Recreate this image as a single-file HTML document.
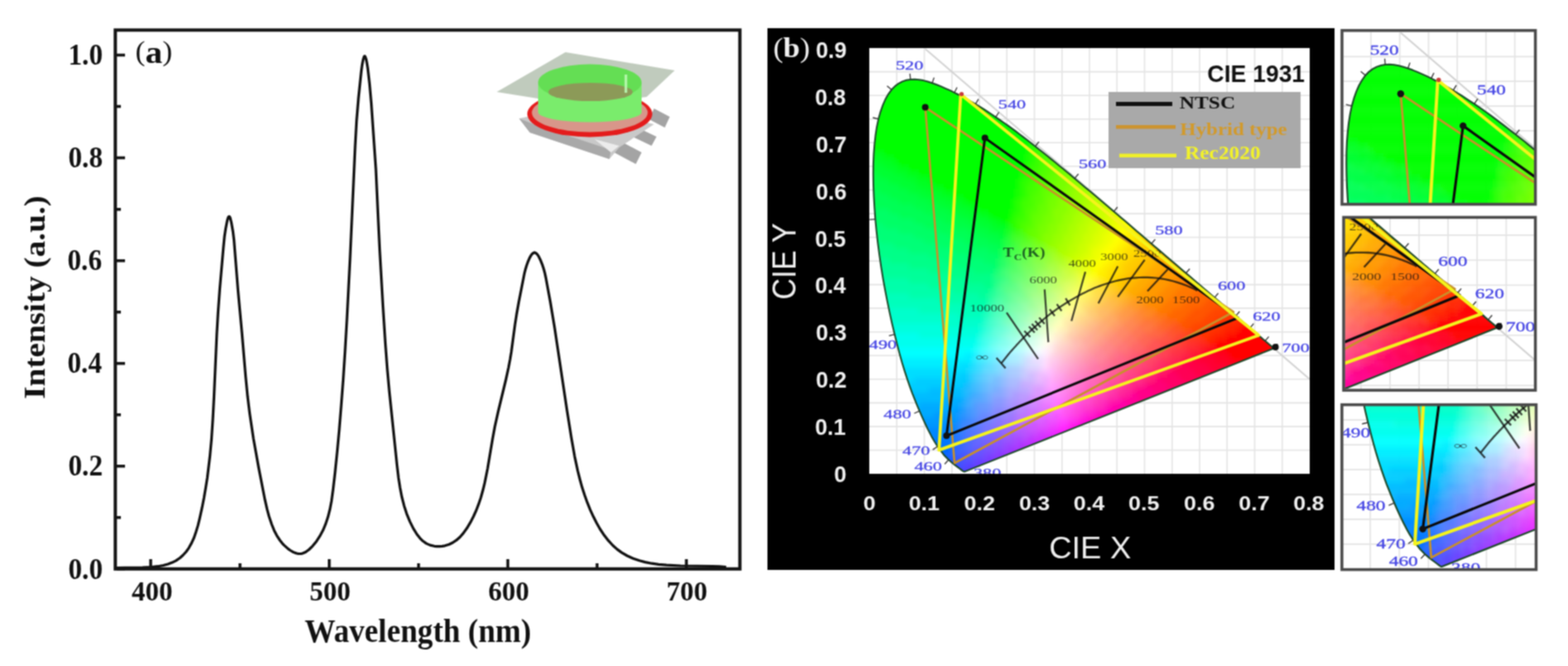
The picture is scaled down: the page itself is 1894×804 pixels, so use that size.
<!DOCTYPE html><html><head><meta charset="utf-8"><style>
html,body{margin:0;padding:0;background:#fff;width:1894px;height:804px;overflow:hidden}
.ta{font-family:"Liberation Serif",serif;font-weight:bold;font-size:32px;fill:#111}
.tt{font-family:"Liberation Serif",serif;font-weight:bold;font-size:36.5px;fill:#111}
.tl{font-family:"Liberation Serif",serif;font-size:32px;fill:#111}
.tc{font-family:"Liberation Serif",serif;font-size:12px;fill:#101010;fill-opacity:.72}
.tk{font-family:"Liberation Serif",serif;font-weight:bold;font-size:18px;fill:#0a3a1a;fill-opacity:.8}
.wl{font-family:"Liberation Serif",serif;font-size:18px;fill:#4646e4;stroke:#4646e4;stroke-width:0.35px}
.lg{font-family:"Liberation Serif",serif;font-weight:bold;font-size:24px}
.ct{font-family:"Liberation Sans",sans-serif;font-weight:bold;font-size:28px;fill:#111}
.ax{font-family:"Liberation Sans",sans-serif;font-weight:bold;font-size:26px;fill:#f0f0f0}
.at{font-family:"Liberation Sans",sans-serif;font-size:36px;fill:#f0f0f0}
.bl{font-family:"Liberation Serif",serif;font-size:32px;fill:#f0f0f0}
.cf rect{height:6px}
</style></head><body>
<svg class="root" width="1894" height="804" viewBox="0 0 1894 804">
<defs><filter id="bl" x="-5%" y="-5%" width="110%" height="110%"><feGaussianBlur stdDeviation="3"/></filter><filter id="soft" x="0" y="0" width="1894" height="804" filterUnits="userSpaceOnUse" color-interpolation-filters="sRGB"><feConvolveMatrix order="3" kernelMatrix="1 2 1 2 4 2 1 2 1" divisor="16" edgeMode="duplicate" preserveAlpha="true"/></filter>
<clipPath id="pc"><rect x="1050" y="58" width="532" height="514"/></clipPath><g id="cie" clip-path="url(#pc)"><rect x="1050" y="58" width="532" height="514" fill="#fff"/>
<path d="M1083.2,58V572 M1116.5,58V572 M1149.8,58V572 M1183,58V572 M1216.2,58V572 M1249.5,58V572 M1282.8,58V572 M1316,58V572 M1349.2,58V572 M1382.5,58V572 M1415.8,58V572 M1449,58V572 M1482.2,58V572 M1515.5,58V572 M1548.8,58V572 M1050,543.5H1582 M1050,514.9H1582 M1050,486.4H1582 M1050,457.8H1582 M1050,429.2H1582 M1050,400.7H1582 M1050,372.1H1582 M1050,343.6H1582 M1050,315.1H1582 M1050,286.5H1582 M1050,257.9H1582 M1050,229.4H1582 M1050,200.8H1582 M1050,172.3H1582 M1050,143.8H1582 M1050,115.2H1582 M1050,86.6H1582" stroke="#e4e4e4" stroke-width="1.6"/>
<path d="M1117.6,59.1L1582,457.8" stroke="#d2d2d2" stroke-width="2"/>
<clipPath id="lc"><path d="M1165.8,569.1 1165.7,569.1 1165.6,569.2 1165.4,569.2 1165.2,569.3 1165,569.3 1164.8,569.3 1164.4,569.3 1164,569.1 1163.2,568.7 1162.3,568.1 1161,567.1 1159.3,565.8 1157.1,564.1 1154.1,561.9 1150.4,559 1145.8,555 1140.1,549.2 1132.5,539 1130.8,536.3 1128.9,533.3 1127,530 1125,526.4 1122.9,522.4 1120.7,518.1 1118.4,513.3 1116,508.1 1113.4,502.4 1110.7,496.2 1107.9,489.6 1105,482.4 1101.9,474.6 1098.9,466.3 1095.8,457.4 1092.7,447.9 1089.6,437.7 1086.6,426.9 1083.6,415.5 1080.6,403.6 1077.6,391 1074.7,377.9 1071.9,364.4 1069.2,350.5 1066.6,336.3 1064.3,322 1062.2,307.6 1060.3,293.1 1058.7,278.8 1057.3,264.6 1056.3,250.6 1055.5,236.9 1055,223.6 1054.8,210.6 1054.9,198.1 1055.4,186 1056.3,174.5 1057.5,163.5 1059.1,153.2 1061.1,143.6 1063.6,134.8 1066.4,126.9 1069.5,119.8 1073.1,113.6 1076.9,108.3 1081,104.1 1085.4,100.8 1090,98.4 1094.8,96.8 1099.8,95.9 1104.9,95.7 1110,96.2 1115.3,97.1 1120.6,98.5 1126,100.2 1131.4,102.2 1136.8,104.4 1142.2,106.8 1147.6,109.2 1152.9,111.8 1158.1,114.5 1163.2,117.2 1168.3,120 1173.3,122.8 1178.3,125.7 1183.2,128.7 1188.1,131.7 1193,134.9 1197.8,138 1202.7,141.3 1207.5,144.6 1212.3,148 1217.2,151.4 1222,154.9 1226.8,158.4 1231.5,162 1236.3,165.6 1241.1,169.3 1245.8,173 1250.6,176.7 1255.3,180.5 1260.1,184.2 1264.8,188.1 1269.5,191.9 1274.3,195.8 1279.1,199.7 1283.8,203.6 1288.6,207.5 1293.4,211.4 1298.1,215.4 1302.9,219.4 1307.6,223.4 1312.3,227.4 1317.1,231.3 1321.8,235.3 1326.5,239.3 1331.2,243.3 1335.9,247.3 1340.6,251.3 1345.3,255.3 1350,259.2 1354.6,263.2 1359.2,267.1 1363.8,271.1 1368.4,275 1372.9,278.9 1377.5,282.7 1381.9,286.6 1386.4,290.4 1390.8,294.2 1395.2,297.9 1399.5,301.6 1403.8,305.3 1408.1,308.9 1412.3,312.5 1416.4,316.1 1420.6,319.6 1424.6,323 1428.6,326.4 1432.5,329.8 1436.4,333.1 1440.1,336.3 1443.8,339.5 1447.4,342.6 1450.9,345.6 1454.3,348.5 1457.6,351.3 1460.8,354 1463.9,356.7 1467,359.3 1469.9,361.8 1472.8,364.3 1475.7,366.8 1478.4,369.1 1481.1,371.4 1483.6,373.5 1486,375.6 1488.4,377.6 1490.6,379.5 1492.8,381.3 1494.8,383.1 1496.8,384.8 1498.7,386.4 1500.5,388 1502.3,389.5 1503.9,390.9 1505.5,392.2 1507,393.5 1508.5,394.8 1509.8,396 1511.2,397.1 1512.4,398.2 1513.6,399.2 1514.8,400.2 1515.9,401.1 1517,402 1518,402.9 1518.9,403.7 1519.9,404.5 1520.8,405.3 1521.6,406 1522.5,406.7 1523.3,407.4 1524.1,408.1 1524.8,408.8 1525.5,409.4 1526.2,410 1526.9,410.5 1527.5,411.1 1528.1,411.6 1532.8,415.5 1535.5,417.8 1536.8,419 1537.7,419.8 1538.4,420.3 1538.6,420.5Z"/></clipPath>
<g clip-path="url(#lc)"><g filter="url(#bl)" class="cf"><rect x="1098" y="84" width="12" fill="#0f0"/><rect x="1080" y="90" width="54" fill="#0f0"/><rect x="1074" y="96" width="72" fill="#0f0"/><rect x="1068" y="102" width="90" fill="#0f0"/><rect x="1062" y="108" width="108" fill="#0f0"/><rect x="1062" y="114" width="120" fill="#0f0"/><rect x="1056" y="120" width="138" fill="#0f0"/><rect x="1056" y="126" width="144" fill="#0f0"/><rect x="1056" y="132" width="156" fill="#0f0"/><rect x="1050" y="138" width="168" fill="#0f0"/><rect x="1050" y="144" width="174" fill="#0f0"/><rect x="1050" y="150" width="186" fill="#0f0"/><rect x="1050" y="156" width="192" fill="#0f0"/><rect x="1050" y="162" width="192" fill="#0f0"/><rect x="1242" y="162" width="6" fill="#1f0"/><rect x="1050" y="168" width="192" fill="#0f0"/><rect x="1242" y="168" width="6" fill="#1f0"/><rect x="1248" y="168" width="6" fill="#2f0"/><rect x="1254" y="168" width="6" fill="#3f0"/><rect x="1050" y="174" width="6" fill="#0f1"/><rect x="1056" y="174" width="186" fill="#0f0"/><rect x="1242" y="174" width="6" fill="#2f0"/><rect x="1248" y="174" width="12" fill="#3f0"/><rect x="1260" y="174" width="6" fill="#4f0"/><rect x="1044" y="180" width="12" fill="#0f2"/><rect x="1056" y="180" width="12" fill="#0f1"/><rect x="1068" y="180" width="174" fill="#0f0"/><rect x="1242" y="180" width="6" fill="#2f0"/><rect x="1248" y="180" width="6" fill="#3f0"/><rect x="1254" y="180" width="12" fill="#4f0"/><rect x="1266" y="180" width="6" fill="#5f0"/><rect x="1044" y="186" width="24" fill="#0f2"/><rect x="1068" y="186" width="12" fill="#0f1"/><rect x="1080" y="186" width="156" fill="#0f0"/><rect x="1236" y="186" width="6" fill="#1f0"/><rect x="1242" y="186" width="6" fill="#2f0"/><rect x="1248" y="186" width="6" fill="#3f0"/><rect x="1254" y="186" width="12" fill="#4f0"/><rect x="1266" y="186" width="12" fill="#5f0"/><rect x="1044" y="192" width="12" fill="#0f3"/><rect x="1056" y="192" width="24" fill="#0f2"/><rect x="1080" y="192" width="6" fill="#0f1"/><rect x="1086" y="192" width="150" fill="#0f0"/><rect x="1236" y="192" width="6" fill="#1f0"/><rect x="1242" y="192" width="6" fill="#2f0"/><rect x="1248" y="192" width="6" fill="#3f0"/><rect x="1254" y="192" width="6" fill="#4f0"/><rect x="1260" y="192" width="12" fill="#5f0"/><rect x="1272" y="192" width="12" fill="#6f0"/><rect x="1284" y="192" width="6" fill="#7f0"/><rect x="1044" y="198" width="24" fill="#0f3"/><rect x="1068" y="198" width="18" fill="#0f2"/><rect x="1086" y="198" width="12" fill="#0f1"/><rect x="1098" y="198" width="138" fill="#0f0"/><rect x="1236" y="198" width="6" fill="#2f0"/><rect x="1242" y="198" width="12" fill="#3f0"/><rect x="1254" y="198" width="6" fill="#4f0"/><rect x="1260" y="198" width="12" fill="#5f0"/><rect x="1272" y="198" width="12" fill="#6f0"/><rect x="1284" y="198" width="12" fill="#7f0"/><rect x="1044" y="204" width="36" fill="#0f3"/><rect x="1080" y="204" width="18" fill="#0f2"/><rect x="1098" y="204" width="12" fill="#0f1"/><rect x="1110" y="204" width="120" fill="#0f0"/><rect x="1230" y="204" width="6" fill="#1f0"/><rect x="1236" y="204" width="6" fill="#2f0"/><rect x="1242" y="204" width="6" fill="#3f0"/><rect x="1248" y="204" width="12" fill="#4f0"/><rect x="1260" y="204" width="12" fill="#5f0"/><rect x="1272" y="204" width="12" fill="#6f0"/><rect x="1284" y="204" width="12" fill="#7f0"/><rect x="1296" y="204" width="6" fill="#8f0"/><rect x="1044" y="210" width="18" fill="#0f4"/><rect x="1062" y="210" width="30" fill="#0f3"/><rect x="1092" y="210" width="18" fill="#0f2"/><rect x="1110" y="210" width="12" fill="#0f1"/><rect x="1122" y="210" width="108" fill="#0f0"/><rect x="1230" y="210" width="6" fill="#1f0"/><rect x="1236" y="210" width="6" fill="#2f0"/><rect x="1242" y="210" width="6" fill="#3f0"/><rect x="1248" y="210" width="6" fill="#4f0"/><rect x="1254" y="210" width="12" fill="#5f0"/><rect x="1266" y="210" width="12" fill="#6f0"/><rect x="1278" y="210" width="12" fill="#7f0"/><rect x="1290" y="210" width="18" fill="#8f0"/><rect x="1044" y="216" width="30" fill="#0f4"/><rect x="1074" y="216" width="30" fill="#0f3"/><rect x="1104" y="216" width="18" fill="#0f2"/><rect x="1122" y="216" width="6" fill="#0f1"/><rect x="1128" y="216" width="102" fill="#0f0"/><rect x="1230" y="216" width="6" fill="#2f0"/><rect x="1236" y="216" width="12" fill="#3f0"/><rect x="1248" y="216" width="6" fill="#4f0"/><rect x="1254" y="216" width="12" fill="#5f0"/><rect x="1266" y="216" width="12" fill="#6f0"/><rect x="1278" y="216" width="12" fill="#7f0"/><rect x="1290" y="216" width="12" fill="#8f0"/><rect x="1302" y="216" width="12" fill="#9f0"/><rect x="1044" y="222" width="42" fill="#0f4"/><rect x="1086" y="222" width="24" fill="#0f3"/><rect x="1110" y="222" width="18" fill="#0f2"/><rect x="1128" y="222" width="12" fill="#0f1"/><rect x="1140" y="222" width="90" fill="#0f0"/><rect x="1230" y="222" width="6" fill="#2f0"/><rect x="1236" y="222" width="6" fill="#3f0"/><rect x="1242" y="222" width="12" fill="#4f0"/><rect x="1254" y="222" width="12" fill="#5f0"/><rect x="1266" y="222" width="6" fill="#6f0"/><rect x="1272" y="222" width="18" fill="#7f0"/><rect x="1290" y="222" width="12" fill="#8f0"/><rect x="1302" y="222" width="12" fill="#9f0"/><rect x="1314" y="222" width="12" fill="#af0"/><rect x="1044" y="228" width="18" fill="#0f5"/><rect x="1062" y="228" width="36" fill="#0f4"/><rect x="1098" y="228" width="24" fill="#0f3"/><rect x="1122" y="228" width="18" fill="#0f2"/><rect x="1140" y="228" width="12" fill="#0f1"/><rect x="1152" y="228" width="72" fill="#0f0"/><rect x="1224" y="228" width="6" fill="#1f0"/><rect x="1230" y="228" width="6" fill="#2f0"/><rect x="1236" y="228" width="6" fill="#3f0"/><rect x="1242" y="228" width="12" fill="#4f0"/><rect x="1254" y="228" width="6" fill="#5f0"/><rect x="1260" y="228" width="12" fill="#6f0"/><rect x="1272" y="228" width="12" fill="#7f0"/><rect x="1284" y="228" width="12" fill="#8f0"/><rect x="1296" y="228" width="18" fill="#9f0"/><rect x="1314" y="228" width="12" fill="#af0"/><rect x="1326" y="228" width="6" fill="#bf0"/><rect x="1044" y="234" width="30" fill="#0f5"/><rect x="1074" y="234" width="36" fill="#0f4"/><rect x="1110" y="234" width="24" fill="#0f3"/><rect x="1134" y="234" width="18" fill="#0f2"/><rect x="1152" y="234" width="12" fill="#0f1"/><rect x="1164" y="234" width="60" fill="#0f0"/><rect x="1224" y="234" width="6" fill="#1f0"/><rect x="1230" y="234" width="6" fill="#2f0"/><rect x="1236" y="234" width="6" fill="#3f0"/><rect x="1242" y="234" width="6" fill="#4f0"/><rect x="1248" y="234" width="12" fill="#5f0"/><rect x="1260" y="234" width="12" fill="#6f0"/><rect x="1272" y="234" width="12" fill="#7f0"/><rect x="1284" y="234" width="12" fill="#8f0"/><rect x="1296" y="234" width="12" fill="#9f0"/><rect x="1308" y="234" width="12" fill="#af0"/><rect x="1320" y="234" width="18" fill="#bf0"/><rect x="1044" y="240" width="42" fill="#0f5"/><rect x="1086" y="240" width="36" fill="#0f4"/><rect x="1122" y="240" width="24" fill="#0f3"/><rect x="1146" y="240" width="18" fill="#0f2"/><rect x="1164" y="240" width="6" fill="#0f1"/><rect x="1170" y="240" width="54" fill="#0f0"/><rect x="1224" y="240" width="6" fill="#2f0"/><rect x="1230" y="240" width="6" fill="#3f0"/><rect x="1236" y="240" width="12" fill="#4f0"/><rect x="1248" y="240" width="12" fill="#5f0"/><rect x="1260" y="240" width="6" fill="#6f0"/><rect x="1266" y="240" width="12" fill="#7f0"/><rect x="1278" y="240" width="12" fill="#8f0"/><rect x="1290" y="240" width="18" fill="#9f0"/><rect x="1308" y="240" width="12" fill="#af0"/><rect x="1320" y="240" width="12" fill="#bf0"/><rect x="1332" y="240" width="12" fill="#cf0"/><rect x="1050" y="246" width="6" fill="#0f6"/><rect x="1056" y="246" width="48" fill="#0f5"/><rect x="1104" y="246" width="30" fill="#0f4"/><rect x="1134" y="246" width="24" fill="#0f3"/><rect x="1158" y="246" width="18" fill="#0f2"/><rect x="1176" y="246" width="6" fill="#0f1"/><rect x="1182" y="246" width="42" fill="#0f0"/><rect x="1224" y="246" width="6" fill="#2f0"/><rect x="1230" y="246" width="6" fill="#3f0"/><rect x="1236" y="246" width="12" fill="#4f0"/><rect x="1248" y="246" width="6" fill="#5f0"/><rect x="1254" y="246" width="12" fill="#6f0"/><rect x="1266" y="246" width="12" fill="#7f0"/><rect x="1278" y="246" width="12" fill="#8f0"/><rect x="1290" y="246" width="12" fill="#9f0"/><rect x="1302" y="246" width="12" fill="#af0"/><rect x="1314" y="246" width="18" fill="#bf0"/><rect x="1332" y="246" width="12" fill="#cf0"/><rect x="1344" y="246" width="6" fill="#df0"/><rect x="1050" y="252" width="24" fill="#0f6"/><rect x="1074" y="252" width="42" fill="#0f5"/><rect x="1116" y="252" width="30" fill="#0f4"/><rect x="1146" y="252" width="24" fill="#0f3"/><rect x="1170" y="252" width="12" fill="#0f2"/><rect x="1182" y="252" width="12" fill="#0f1"/><rect x="1194" y="252" width="24" fill="#0f0"/><rect x="1218" y="252" width="6" fill="#1f0"/><rect x="1224" y="252" width="6" fill="#2f0"/><rect x="1230" y="252" width="6" fill="#3f0"/><rect x="1236" y="252" width="6" fill="#4f0"/><rect x="1242" y="252" width="12" fill="#5f0"/><rect x="1254" y="252" width="12" fill="#6f0"/><rect x="1266" y="252" width="6" fill="#7f0"/><rect x="1272" y="252" width="18" fill="#8f0"/><rect x="1290" y="252" width="12" fill="#9f0"/><rect x="1302" y="252" width="12" fill="#af0"/><rect x="1314" y="252" width="12" fill="#bf0"/><rect x="1326" y="252" width="12" fill="#cf0"/><rect x="1338" y="252" width="12" fill="#df0"/><rect x="1350" y="252" width="6" fill="#ef0"/><rect x="1050" y="258" width="36" fill="#0f6"/><rect x="1086" y="258" width="42" fill="#0f5"/><rect x="1128" y="258" width="30" fill="#0f4"/><rect x="1158" y="258" width="24" fill="#0f3"/><rect x="1182" y="258" width="12" fill="#0f2"/><rect x="1194" y="258" width="6" fill="#0f1"/><rect x="1200" y="258" width="18" fill="#0f0"/><rect x="1218" y="258" width="6" fill="#1f0"/><rect x="1224" y="258" width="12" fill="#3f0"/><rect x="1236" y="258" width="6" fill="#4f0"/><rect x="1242" y="258" width="6" fill="#5f0"/><rect x="1248" y="258" width="12" fill="#6f0"/><rect x="1260" y="258" width="12" fill="#7f0"/><rect x="1272" y="258" width="12" fill="#8f0"/><rect x="1284" y="258" width="12" fill="#9f0"/><rect x="1296" y="258" width="12" fill="#af0"/><rect x="1308" y="258" width="12" fill="#bf0"/><rect x="1320" y="258" width="18" fill="#cf0"/><rect x="1338" y="258" width="12" fill="#df0"/><rect x="1350" y="258" width="12" fill="#ef0"/><rect x="1362" y="258" width="6" fill="#ff0"/><rect x="1050" y="264" width="54" fill="#0f6"/><rect x="1104" y="264" width="36" fill="#0f5"/><rect x="1140" y="264" width="30" fill="#0f4"/><rect x="1170" y="264" width="24" fill="#0f3"/><rect x="1194" y="264" width="12" fill="#0f2"/><rect x="1206" y="264" width="6" fill="#0f1"/><rect x="1212" y="264" width="6" fill="#0f0"/><rect x="1218" y="264" width="6" fill="#2f0"/><rect x="1224" y="264" width="6" fill="#3f0"/><rect x="1230" y="264" width="12" fill="#4f0"/><rect x="1242" y="264" width="6" fill="#5f0"/><rect x="1248" y="264" width="12" fill="#6f0"/><rect x="1260" y="264" width="12" fill="#7f0"/><rect x="1272" y="264" width="12" fill="#8f0"/><rect x="1284" y="264" width="12" fill="#9f0"/><rect x="1296" y="264" width="12" fill="#af0"/><rect x="1308" y="264" width="12" fill="#bf0"/><rect x="1320" y="264" width="12" fill="#cf0"/><rect x="1332" y="264" width="12" fill="#df0"/><rect x="1344" y="264" width="12" fill="#ef0"/><rect x="1356" y="264" width="12" fill="#ff0"/><rect x="1368" y="264" width="6" fill="#fe0"/><rect x="1050" y="270" width="18" fill="#0f7"/><rect x="1068" y="270" width="48" fill="#0f6"/><rect x="1116" y="270" width="36" fill="#0f5"/><rect x="1152" y="270" width="30" fill="#0f4"/><rect x="1182" y="270" width="18" fill="#0f3"/><rect x="1200" y="270" width="18" fill="#0f2"/><rect x="1218" y="270" width="6" fill="#2f1"/><rect x="1224" y="270" width="6" fill="#3f0"/><rect x="1230" y="270" width="6" fill="#4f0"/><rect x="1236" y="270" width="12" fill="#5f0"/><rect x="1248" y="270" width="6" fill="#6f0"/><rect x="1254" y="270" width="12" fill="#7f0"/><rect x="1266" y="270" width="12" fill="#8f0"/><rect x="1278" y="270" width="12" fill="#9f0"/><rect x="1290" y="270" width="12" fill="#af0"/><rect x="1302" y="270" width="12" fill="#bf0"/><rect x="1314" y="270" width="12" fill="#cf0"/><rect x="1326" y="270" width="18" fill="#df0"/><rect x="1344" y="270" width="12" fill="#ef0"/><rect x="1356" y="270" width="12" fill="#ff0"/><rect x="1368" y="270" width="12" fill="#fe0"/><rect x="1050" y="276" width="36" fill="#0f7"/><rect x="1086" y="276" width="48" fill="#0f6"/><rect x="1134" y="276" width="36" fill="#0f5"/><rect x="1170" y="276" width="24" fill="#0f4"/><rect x="1194" y="276" width="18" fill="#0f3"/><rect x="1212" y="276" width="6" fill="#1f2"/><rect x="1218" y="276" width="6" fill="#2f2"/><rect x="1224" y="276" width="6" fill="#3f1"/><rect x="1230" y="276" width="6" fill="#4f1"/><rect x="1236" y="276" width="6" fill="#5f0"/><rect x="1242" y="276" width="12" fill="#6f0"/><rect x="1254" y="276" width="12" fill="#7f0"/><rect x="1266" y="276" width="12" fill="#8f0"/><rect x="1278" y="276" width="12" fill="#9f0"/><rect x="1290" y="276" width="12" fill="#af0"/><rect x="1302" y="276" width="12" fill="#bf0"/><rect x="1314" y="276" width="12" fill="#cf0"/><rect x="1326" y="276" width="12" fill="#df0"/><rect x="1338" y="276" width="12" fill="#ef0"/><rect x="1350" y="276" width="12" fill="#ff0"/><rect x="1362" y="276" width="12" fill="#fe0"/><rect x="1374" y="276" width="12" fill="#fd0"/><rect x="1050" y="282" width="54" fill="#0f7"/><rect x="1104" y="282" width="42" fill="#0f6"/><rect x="1146" y="282" width="36" fill="#0f5"/><rect x="1182" y="282" width="24" fill="#0f4"/><rect x="1206" y="282" width="6" fill="#0f3"/><rect x="1212" y="282" width="6" fill="#1f3"/><rect x="1218" y="282" width="6" fill="#3f3"/><rect x="1224" y="282" width="12" fill="#4f2"/><rect x="1236" y="282" width="6" fill="#5f1"/><rect x="1242" y="282" width="12" fill="#6f0"/><rect x="1254" y="282" width="6" fill="#7f0"/><rect x="1260" y="282" width="12" fill="#8f0"/><rect x="1272" y="282" width="12" fill="#9f0"/><rect x="1284" y="282" width="12" fill="#af0"/><rect x="1296" y="282" width="12" fill="#bf0"/><rect x="1308" y="282" width="12" fill="#cf0"/><rect x="1320" y="282" width="12" fill="#df0"/><rect x="1332" y="282" width="12" fill="#ef0"/><rect x="1344" y="282" width="12" fill="#ff0"/><rect x="1356" y="282" width="18" fill="#fe0"/><rect x="1374" y="282" width="12" fill="#fd0"/><rect x="1386" y="282" width="6" fill="#fc0"/><rect x="1050" y="288" width="12" fill="#0f8"/><rect x="1062" y="288" width="54" fill="#0f7"/><rect x="1116" y="288" width="48" fill="#0f6"/><rect x="1164" y="288" width="30" fill="#0f5"/><rect x="1194" y="288" width="18" fill="#0f4"/><rect x="1212" y="288" width="6" fill="#2f4"/><rect x="1218" y="288" width="6" fill="#3f3"/><rect x="1224" y="288" width="6" fill="#4f3"/><rect x="1230" y="288" width="6" fill="#5f3"/><rect x="1236" y="288" width="6" fill="#5f2"/><rect x="1242" y="288" width="6" fill="#6f2"/><rect x="1248" y="288" width="6" fill="#7f1"/><rect x="1254" y="288" width="6" fill="#7f0"/><rect x="1260" y="288" width="12" fill="#8f0"/><rect x="1272" y="288" width="12" fill="#9f0"/><rect x="1284" y="288" width="12" fill="#af0"/><rect x="1296" y="288" width="12" fill="#bf0"/><rect x="1308" y="288" width="12" fill="#cf0"/><rect x="1320" y="288" width="12" fill="#df0"/><rect x="1332" y="288" width="12" fill="#ef0"/><rect x="1344" y="288" width="12" fill="#ff0"/><rect x="1356" y="288" width="12" fill="#fe0"/><rect x="1368" y="288" width="12" fill="#fd0"/><rect x="1380" y="288" width="18" fill="#fc0"/><rect x="1050" y="294" width="30" fill="#0f8"/><rect x="1080" y="294" width="54" fill="#0f7"/><rect x="1134" y="294" width="42" fill="#0f6"/><rect x="1176" y="294" width="30" fill="#0f5"/><rect x="1206" y="294" width="6" fill="#0f4"/><rect x="1212" y="294" width="6" fill="#2f4"/><rect x="1218" y="294" width="6" fill="#3f4"/><rect x="1224" y="294" width="6" fill="#4f4"/><rect x="1230" y="294" width="6" fill="#5f3"/><rect x="1236" y="294" width="12" fill="#6f3"/><rect x="1248" y="294" width="12" fill="#7f2"/><rect x="1260" y="294" width="6" fill="#8f1"/><rect x="1266" y="294" width="12" fill="#9f0"/><rect x="1278" y="294" width="12" fill="#af0"/><rect x="1290" y="294" width="12" fill="#bf0"/><rect x="1302" y="294" width="12" fill="#cf0"/><rect x="1314" y="294" width="12" fill="#df0"/><rect x="1326" y="294" width="12" fill="#ef0"/><rect x="1338" y="294" width="12" fill="#ff0"/><rect x="1350" y="294" width="12" fill="#fe0"/><rect x="1362" y="294" width="18" fill="#fd0"/><rect x="1380" y="294" width="12" fill="#fc0"/><rect x="1392" y="294" width="18" fill="#fb0"/><rect x="1050" y="300" width="48" fill="#0f8"/><rect x="1098" y="300" width="54" fill="#0f7"/><rect x="1152" y="300" width="42" fill="#0f6"/><rect x="1194" y="300" width="12" fill="#0f5"/><rect x="1206" y="300" width="6" fill="#1f5"/><rect x="1212" y="300" width="6" fill="#3f5"/><rect x="1218" y="300" width="12" fill="#4f4"/><rect x="1230" y="300" width="6" fill="#5f4"/><rect x="1236" y="300" width="6" fill="#6f4"/><rect x="1242" y="300" width="6" fill="#6f3"/><rect x="1248" y="300" width="6" fill="#7f3"/><rect x="1254" y="300" width="6" fill="#8f3"/><rect x="1260" y="300" width="6" fill="#8f2"/><rect x="1266" y="300" width="6" fill="#9f2"/><rect x="1272" y="300" width="6" fill="#9f1"/><rect x="1278" y="300" width="12" fill="#af0"/><rect x="1290" y="300" width="12" fill="#bf0"/><rect x="1302" y="300" width="12" fill="#cf0"/><rect x="1314" y="300" width="6" fill="#df0"/><rect x="1320" y="300" width="12" fill="#ef0"/><rect x="1332" y="300" width="12" fill="#ff0"/><rect x="1344" y="300" width="12" fill="#fe0"/><rect x="1356" y="300" width="18" fill="#fd0"/><rect x="1374" y="300" width="18" fill="#fc0"/><rect x="1392" y="300" width="18" fill="#fb0"/><rect x="1410" y="300" width="6" fill="#fa0"/><rect x="1056" y="306" width="66" fill="#0f8"/><rect x="1122" y="306" width="48" fill="#0f7"/><rect x="1170" y="306" width="36" fill="#0f6"/><rect x="1206" y="306" width="6" fill="#1f5"/><rect x="1212" y="306" width="6" fill="#3f5"/><rect x="1218" y="306" width="6" fill="#4f5"/><rect x="1224" y="306" width="12" fill="#5f5"/><rect x="1236" y="306" width="6" fill="#6f4"/><rect x="1242" y="306" width="12" fill="#7f4"/><rect x="1254" y="306" width="12" fill="#8f3"/><rect x="1266" y="306" width="6" fill="#9f3"/><rect x="1272" y="306" width="6" fill="#af2"/><rect x="1278" y="306" width="6" fill="#af1"/><rect x="1284" y="306" width="12" fill="#bf0"/><rect x="1296" y="306" width="12" fill="#cf0"/><rect x="1308" y="306" width="12" fill="#df0"/><rect x="1320" y="306" width="12" fill="#ef0"/><rect x="1332" y="306" width="12" fill="#ff0"/><rect x="1344" y="306" width="12" fill="#fe0"/><rect x="1356" y="306" width="12" fill="#fd0"/><rect x="1368" y="306" width="18" fill="#fc0"/><rect x="1386" y="306" width="18" fill="#fb0"/><rect x="1404" y="306" width="18" fill="#fa0"/><rect x="1056" y="312" width="18" fill="#0f9"/><rect x="1074" y="312" width="66" fill="#0f8"/><rect x="1140" y="312" width="48" fill="#0f7"/><rect x="1188" y="312" width="18" fill="#0f6"/><rect x="1206" y="312" width="6" fill="#2f6"/><rect x="1212" y="312" width="6" fill="#3f6"/><rect x="1218" y="312" width="6" fill="#4f5"/><rect x="1224" y="312" width="6" fill="#5f5"/><rect x="1230" y="312" width="12" fill="#6f5"/><rect x="1242" y="312" width="6" fill="#7f5"/><rect x="1248" y="312" width="12" fill="#8f4"/><rect x="1260" y="312" width="6" fill="#9f4"/><rect x="1266" y="312" width="6" fill="#9f3"/><rect x="1272" y="312" width="6" fill="#af3"/><rect x="1278" y="312" width="6" fill="#af2"/><rect x="1284" y="312" width="6" fill="#bf2"/><rect x="1290" y="312" width="6" fill="#cf1"/><rect x="1296" y="312" width="6" fill="#cf0"/><rect x="1302" y="312" width="12" fill="#df0"/><rect x="1314" y="312" width="12" fill="#ef0"/><rect x="1326" y="312" width="12" fill="#ff0"/><rect x="1338" y="312" width="12" fill="#fe0"/><rect x="1350" y="312" width="12" fill="#fd0"/><rect x="1362" y="312" width="18" fill="#fc0"/><rect x="1380" y="312" width="18" fill="#fb0"/><rect x="1398" y="312" width="18" fill="#fa0"/><rect x="1416" y="312" width="12" fill="#f90"/><rect x="1056" y="318" width="42" fill="#0f9"/><rect x="1098" y="318" width="60" fill="#0f8"/><rect x="1158" y="318" width="42" fill="#0f7"/><rect x="1200" y="318" width="6" fill="#0f6"/><rect x="1206" y="318" width="6" fill="#2f6"/><rect x="1212" y="318" width="6" fill="#3f6"/><rect x="1218" y="318" width="6" fill="#4f6"/><rect x="1224" y="318" width="6" fill="#5f6"/><rect x="1230" y="318" width="6" fill="#6f6"/><rect x="1236" y="318" width="12" fill="#7f5"/><rect x="1248" y="318" width="12" fill="#8f5"/><rect x="1260" y="318" width="6" fill="#9f4"/><rect x="1266" y="318" width="12" fill="#af4"/><rect x="1278" y="318" width="12" fill="#bf3"/><rect x="1290" y="318" width="12" fill="#cf2"/><rect x="1302" y="318" width="6" fill="#df1"/><rect x="1308" y="318" width="6" fill="#df0"/><rect x="1314" y="318" width="6" fill="#ef0"/><rect x="1320" y="318" width="12" fill="#ff0"/><rect x="1332" y="318" width="12" fill="#fe0"/><rect x="1344" y="318" width="12" fill="#fd0"/><rect x="1356" y="318" width="18" fill="#fc0"/><rect x="1374" y="318" width="18" fill="#fb0"/><rect x="1392" y="318" width="18" fill="#fa0"/><rect x="1410" y="318" width="24" fill="#f90"/><rect x="1056" y="324" width="66" fill="#0f9"/><rect x="1122" y="324" width="54" fill="#0f8"/><rect x="1176" y="324" width="24" fill="#0f7"/><rect x="1200" y="324" width="6" fill="#1f7"/><rect x="1206" y="324" width="6" fill="#3f7"/><rect x="1212" y="324" width="6" fill="#4f7"/><rect x="1218" y="324" width="12" fill="#5f6"/><rect x="1230" y="324" width="6" fill="#6f6"/><rect x="1236" y="324" width="12" fill="#7f6"/><rect x="1248" y="324" width="6" fill="#8f5"/><rect x="1254" y="324" width="12" fill="#9f5"/><rect x="1266" y="324" width="6" fill="#af5"/><rect x="1272" y="324" width="6" fill="#af4"/><rect x="1278" y="324" width="6" fill="#bf4"/><rect x="1284" y="324" width="6" fill="#cf4"/><rect x="1290" y="324" width="6" fill="#cf3"/><rect x="1296" y="324" width="6" fill="#df3"/><rect x="1302" y="324" width="6" fill="#df2"/><rect x="1308" y="324" width="6" fill="#ef2"/><rect x="1314" y="324" width="6" fill="#ef0"/><rect x="1320" y="324" width="6" fill="#ff0"/><rect x="1326" y="324" width="12" fill="#fe0"/><rect x="1338" y="324" width="18" fill="#fd0"/><rect x="1356" y="324" width="12" fill="#fc0"/><rect x="1368" y="324" width="18" fill="#fb0"/><rect x="1386" y="324" width="18" fill="#fa0"/><rect x="1404" y="324" width="24" fill="#f90"/><rect x="1428" y="324" width="18" fill="#f80"/><rect x="1056" y="330" width="12" fill="#0fa"/><rect x="1068" y="330" width="78" fill="#0f9"/><rect x="1146" y="330" width="54" fill="#0f8"/><rect x="1200" y="330" width="6" fill="#2f7"/><rect x="1206" y="330" width="6" fill="#3f7"/><rect x="1212" y="330" width="6" fill="#4f7"/><rect x="1218" y="330" width="6" fill="#5f7"/><rect x="1224" y="330" width="12" fill="#6f7"/><rect x="1236" y="330" width="6" fill="#7f6"/><rect x="1242" y="330" width="12" fill="#8f6"/><rect x="1254" y="330" width="6" fill="#9f6"/><rect x="1260" y="330" width="6" fill="#af6"/><rect x="1266" y="330" width="6" fill="#af5"/><rect x="1272" y="330" width="12" fill="#bf5"/><rect x="1284" y="330" width="12" fill="#cf4"/><rect x="1296" y="330" width="6" fill="#df4"/><rect x="1302" y="330" width="12" fill="#ef3"/><rect x="1314" y="330" width="6" fill="#ff2"/><rect x="1320" y="330" width="6" fill="#ff1"/><rect x="1326" y="330" width="12" fill="#fe0"/><rect x="1338" y="330" width="12" fill="#fd0"/><rect x="1350" y="330" width="12" fill="#fc0"/><rect x="1362" y="330" width="18" fill="#fb0"/><rect x="1380" y="330" width="18" fill="#fa0"/><rect x="1398" y="330" width="24" fill="#f90"/><rect x="1422" y="330" width="24" fill="#f80"/><rect x="1446" y="330" width="6" fill="#f70"/><rect x="1056" y="336" width="42" fill="#0fa"/><rect x="1098" y="336" width="72" fill="#0f9"/><rect x="1170" y="336" width="30" fill="#0f8"/><rect x="1200" y="336" width="6" fill="#2f8"/><rect x="1206" y="336" width="6" fill="#3f8"/><rect x="1212" y="336" width="6" fill="#4f8"/><rect x="1218" y="336" width="6" fill="#5f7"/><rect x="1224" y="336" width="6" fill="#6f7"/><rect x="1230" y="336" width="12" fill="#7f7"/><rect x="1242" y="336" width="6" fill="#8f7"/><rect x="1248" y="336" width="6" fill="#9f7"/><rect x="1254" y="336" width="6" fill="#9f6"/><rect x="1260" y="336" width="12" fill="#af6"/><rect x="1272" y="336" width="6" fill="#bf6"/><rect x="1278" y="336" width="12" fill="#cf5"/><rect x="1290" y="336" width="12" fill="#df5"/><rect x="1302" y="336" width="6" fill="#ef4"/><rect x="1308" y="336" width="6" fill="#ff4"/><rect x="1314" y="336" width="6" fill="#ff3"/><rect x="1320" y="336" width="6" fill="#fe3"/><rect x="1326" y="336" width="6" fill="#fe2"/><rect x="1332" y="336" width="6" fill="#fd1"/><rect x="1338" y="336" width="6" fill="#fd0"/><rect x="1344" y="336" width="12" fill="#fc0"/><rect x="1356" y="336" width="18" fill="#fb0"/><rect x="1374" y="336" width="18" fill="#fa0"/><rect x="1392" y="336" width="24" fill="#f90"/><rect x="1416" y="336" width="18" fill="#f80"/><rect x="1434" y="336" width="24" fill="#f70"/><rect x="1062" y="342" width="60" fill="#0fa"/><rect x="1122" y="342" width="66" fill="#0f9"/><rect x="1188" y="342" width="12" fill="#0f8"/><rect x="1200" y="342" width="6" fill="#2f8"/><rect x="1206" y="342" width="6" fill="#4f8"/><rect x="1212" y="342" width="12" fill="#5f8"/><rect x="1224" y="342" width="6" fill="#6f8"/><rect x="1230" y="342" width="6" fill="#7f8"/><rect x="1236" y="342" width="12" fill="#8f7"/><rect x="1248" y="342" width="6" fill="#9f7"/><rect x="1254" y="342" width="12" fill="#af7"/><rect x="1266" y="342" width="6" fill="#bf7"/><rect x="1272" y="342" width="6" fill="#bf6"/><rect x="1278" y="342" width="6" fill="#cf6"/><rect x="1284" y="342" width="12" fill="#df6"/><rect x="1296" y="342" width="12" fill="#ef5"/><rect x="1308" y="342" width="6" fill="#ff5"/><rect x="1314" y="342" width="12" fill="#fe4"/><rect x="1326" y="342" width="6" fill="#fd3"/><rect x="1332" y="342" width="6" fill="#fd2"/><rect x="1338" y="342" width="6" fill="#fc2"/><rect x="1344" y="342" width="6" fill="#fc1"/><rect x="1350" y="342" width="6" fill="#fc0"/><rect x="1356" y="342" width="12" fill="#fb0"/><rect x="1368" y="342" width="18" fill="#fa0"/><rect x="1386" y="342" width="24" fill="#f90"/><rect x="1410" y="342" width="18" fill="#f80"/><rect x="1428" y="342" width="24" fill="#f70"/><rect x="1452" y="342" width="12" fill="#f60"/><rect x="1062" y="348" width="90" fill="#0fa"/><rect x="1152" y="348" width="42" fill="#0f9"/><rect x="1194" y="348" width="6" fill="#1f9"/><rect x="1200" y="348" width="6" fill="#3f9"/><rect x="1206" y="348" width="6" fill="#4f9"/><rect x="1212" y="348" width="6" fill="#5f8"/><rect x="1218" y="348" width="12" fill="#6f8"/><rect x="1230" y="348" width="6" fill="#7f8"/><rect x="1236" y="348" width="6" fill="#8f8"/><rect x="1242" y="348" width="12" fill="#9f8"/><rect x="1254" y="348" width="12" fill="#af7"/><rect x="1266" y="348" width="6" fill="#bf7"/><rect x="1272" y="348" width="12" fill="#cf7"/><rect x="1284" y="348" width="6" fill="#df6"/><rect x="1290" y="348" width="12" fill="#ef6"/><rect x="1302" y="348" width="6" fill="#ff6"/><rect x="1308" y="348" width="6" fill="#ff5"/><rect x="1314" y="348" width="6" fill="#fe5"/><rect x="1320" y="348" width="12" fill="#fd4"/><rect x="1332" y="348" width="6" fill="#fd3"/><rect x="1338" y="348" width="6" fill="#fc3"/><rect x="1344" y="348" width="6" fill="#fc2"/><rect x="1350" y="348" width="6" fill="#fb1"/><rect x="1356" y="348" width="6" fill="#fb0"/><rect x="1362" y="348" width="18" fill="#fa0"/><rect x="1380" y="348" width="24" fill="#f90"/><rect x="1404" y="348" width="18" fill="#f80"/><rect x="1422" y="348" width="24" fill="#f70"/><rect x="1446" y="348" width="24" fill="#f60"/><rect x="1062" y="354" width="36" fill="#0fb"/><rect x="1098" y="354" width="84" fill="#0fa"/><rect x="1182" y="354" width="12" fill="#0f9"/><rect x="1194" y="354" width="6" fill="#2f9"/><rect x="1200" y="354" width="6" fill="#3f9"/><rect x="1206" y="354" width="6" fill="#4f9"/><rect x="1212" y="354" width="6" fill="#5f9"/><rect x="1218" y="354" width="6" fill="#6f9"/><rect x="1224" y="354" width="12" fill="#7f9"/><rect x="1236" y="354" width="6" fill="#8f8"/><rect x="1242" y="354" width="6" fill="#9f8"/><rect x="1248" y="354" width="12" fill="#af8"/><rect x="1260" y="354" width="12" fill="#bf8"/><rect x="1272" y="354" width="6" fill="#cf8"/><rect x="1278" y="354" width="12" fill="#df7"/><rect x="1290" y="354" width="6" fill="#ef7"/><rect x="1296" y="354" width="6" fill="#ff7"/><rect x="1302" y="354" width="6" fill="#ff6"/><rect x="1308" y="354" width="6" fill="#fe6"/><rect x="1314" y="354" width="6" fill="#fe5"/><rect x="1320" y="354" width="6" fill="#fd5"/><rect x="1326" y="354" width="6" fill="#fd4"/><rect x="1332" y="354" width="6" fill="#fc4"/><rect x="1338" y="354" width="6" fill="#fc3"/><rect x="1344" y="354" width="6" fill="#fb3"/><rect x="1350" y="354" width="12" fill="#fb2"/><rect x="1362" y="354" width="6" fill="#fa1"/><rect x="1368" y="354" width="6" fill="#fa0"/><rect x="1374" y="354" width="24" fill="#f90"/><rect x="1398" y="354" width="18" fill="#f80"/><rect x="1416" y="354" width="24" fill="#f70"/><rect x="1440" y="354" width="24" fill="#f60"/><rect x="1464" y="354" width="12" fill="#f50"/><rect x="1062" y="360" width="72" fill="#0fb"/><rect x="1134" y="360" width="60" fill="#0fa"/><rect x="1194" y="360" width="6" fill="#2fa"/><rect x="1200" y="360" width="6" fill="#4fa"/><rect x="1206" y="360" width="6" fill="#5fa"/><rect x="1212" y="360" width="6" fill="#5f9"/><rect x="1218" y="360" width="6" fill="#6f9"/><rect x="1224" y="360" width="6" fill="#7f9"/><rect x="1230" y="360" width="12" fill="#8f9"/><rect x="1242" y="360" width="6" fill="#9f9"/><rect x="1248" y="360" width="12" fill="#af9"/><rect x="1260" y="360" width="6" fill="#bf8"/><rect x="1266" y="360" width="12" fill="#cf8"/><rect x="1278" y="360" width="6" fill="#df8"/><rect x="1284" y="360" width="12" fill="#ef8"/><rect x="1296" y="360" width="6" fill="#ff7"/><rect x="1302" y="360" width="6" fill="#fe7"/><rect x="1308" y="360" width="6" fill="#fe6"/><rect x="1314" y="360" width="6" fill="#fd6"/><rect x="1320" y="360" width="6" fill="#fd5"/><rect x="1326" y="360" width="12" fill="#fc5"/><rect x="1338" y="360" width="12" fill="#fb4"/><rect x="1350" y="360" width="6" fill="#fb3"/><rect x="1356" y="360" width="6" fill="#fa3"/><rect x="1362" y="360" width="6" fill="#fa2"/><rect x="1368" y="360" width="6" fill="#f92"/><rect x="1374" y="360" width="6" fill="#f91"/><rect x="1380" y="360" width="12" fill="#f90"/><rect x="1392" y="360" width="18" fill="#f80"/><rect x="1410" y="360" width="24" fill="#f70"/><rect x="1434" y="360" width="24" fill="#f60"/><rect x="1458" y="360" width="24" fill="#f50"/><rect x="1482" y="360" width="6" fill="#f40"/><rect x="1062" y="366" width="108" fill="#0fb"/><rect x="1170" y="366" width="24" fill="#0fa"/><rect x="1194" y="366" width="6" fill="#3fa"/><rect x="1200" y="366" width="6" fill="#4fa"/><rect x="1206" y="366" width="6" fill="#5fa"/><rect x="1212" y="366" width="6" fill="#6fa"/><rect x="1218" y="366" width="12" fill="#7fa"/><rect x="1230" y="366" width="6" fill="#8fa"/><rect x="1236" y="366" width="6" fill="#9fa"/><rect x="1242" y="366" width="6" fill="#9f9"/><rect x="1248" y="366" width="6" fill="#af9"/><rect x="1254" y="366" width="12" fill="#bf9"/><rect x="1266" y="366" width="6" fill="#cf9"/><rect x="1272" y="366" width="12" fill="#df9"/><rect x="1284" y="366" width="6" fill="#ef8"/><rect x="1290" y="366" width="12" fill="#ff8"/><rect x="1302" y="366" width="6" fill="#fe7"/><rect x="1308" y="366" width="6" fill="#fd7"/><rect x="1314" y="366" width="6" fill="#fd6"/><rect x="1320" y="366" width="6" fill="#fc6"/><rect x="1326" y="366" width="6" fill="#fc5"/><rect x="1332" y="366" width="12" fill="#fb5"/><rect x="1344" y="366" width="6" fill="#fb4"/><rect x="1350" y="366" width="6" fill="#fa4"/><rect x="1356" y="366" width="6" fill="#fa3"/><rect x="1362" y="366" width="6" fill="#f93"/><rect x="1368" y="366" width="12" fill="#f92"/><rect x="1380" y="366" width="6" fill="#f81"/><rect x="1386" y="366" width="18" fill="#f80"/><rect x="1404" y="366" width="24" fill="#f70"/><rect x="1428" y="366" width="24" fill="#f60"/><rect x="1452" y="366" width="24" fill="#f50"/><rect x="1476" y="366" width="18" fill="#f40"/><rect x="1062" y="372" width="48" fill="#0fc"/><rect x="1110" y="372" width="78" fill="#0fb"/><rect x="1188" y="372" width="6" fill="#1fb"/><rect x="1194" y="372" width="6" fill="#3fb"/><rect x="1200" y="372" width="6" fill="#4fb"/><rect x="1206" y="372" width="6" fill="#5fb"/><rect x="1212" y="372" width="6" fill="#6fa"/><rect x="1218" y="372" width="6" fill="#7fa"/><rect x="1224" y="372" width="12" fill="#8fa"/><rect x="1236" y="372" width="6" fill="#9fa"/><rect x="1242" y="372" width="12" fill="#afa"/><rect x="1254" y="372" width="6" fill="#bfa"/><rect x="1260" y="372" width="6" fill="#cfa"/><rect x="1266" y="372" width="12" fill="#df9"/><rect x="1278" y="372" width="6" fill="#ef9"/><rect x="1284" y="372" width="12" fill="#ff9"/><rect x="1296" y="372" width="12" fill="#fe8"/><rect x="1308" y="372" width="6" fill="#fd7"/><rect x="1314" y="372" width="6" fill="#fc7"/><rect x="1320" y="372" width="6" fill="#fc6"/><rect x="1326" y="372" width="12" fill="#fb6"/><rect x="1338" y="372" width="6" fill="#fb5"/><rect x="1344" y="372" width="6" fill="#fa5"/><rect x="1350" y="372" width="6" fill="#fa4"/><rect x="1356" y="372" width="12" fill="#f94"/><rect x="1368" y="372" width="6" fill="#f93"/><rect x="1374" y="372" width="6" fill="#f83"/><rect x="1380" y="372" width="12" fill="#f82"/><rect x="1392" y="372" width="6" fill="#f81"/><rect x="1398" y="372" width="18" fill="#f70"/><rect x="1416" y="372" width="24" fill="#f60"/><rect x="1440" y="372" width="24" fill="#f50"/><rect x="1464" y="372" width="24" fill="#f40"/><rect x="1488" y="372" width="12" fill="#f30"/><rect x="1068" y="378" width="90" fill="#0fc"/><rect x="1158" y="378" width="30" fill="#0fb"/><rect x="1188" y="378" width="6" fill="#2fb"/><rect x="1194" y="378" width="6" fill="#3fb"/><rect x="1200" y="378" width="12" fill="#5fb"/><rect x="1212" y="378" width="6" fill="#6fb"/><rect x="1218" y="378" width="6" fill="#7fb"/><rect x="1224" y="378" width="6" fill="#8fb"/><rect x="1230" y="378" width="12" fill="#9fb"/><rect x="1242" y="378" width="6" fill="#afb"/><rect x="1248" y="378" width="6" fill="#bfa"/><rect x="1254" y="378" width="12" fill="#cfa"/><rect x="1266" y="378" width="6" fill="#dfa"/><rect x="1272" y="378" width="12" fill="#efa"/><rect x="1284" y="378" width="6" fill="#ffa"/><rect x="1290" y="378" width="12" fill="#fe9"/><rect x="1302" y="378" width="12" fill="#fd8"/><rect x="1314" y="378" width="12" fill="#fc7"/><rect x="1326" y="378" width="12" fill="#fb6"/><rect x="1338" y="378" width="6" fill="#fa6"/><rect x="1344" y="378" width="6" fill="#fa5"/><rect x="1350" y="378" width="6" fill="#f95"/><rect x="1356" y="378" width="12" fill="#f94"/><rect x="1368" y="378" width="6" fill="#f84"/><rect x="1374" y="378" width="12" fill="#f83"/><rect x="1386" y="378" width="6" fill="#f82"/><rect x="1392" y="378" width="6" fill="#f72"/><rect x="1398" y="378" width="12" fill="#f71"/><rect x="1410" y="378" width="24" fill="#f60"/><rect x="1434" y="378" width="24" fill="#f50"/><rect x="1458" y="378" width="24" fill="#f40"/><rect x="1482" y="378" width="24" fill="#f30"/><rect x="1068" y="384" width="120" fill="#0fc"/><rect x="1188" y="384" width="6" fill="#2fc"/><rect x="1194" y="384" width="6" fill="#4fc"/><rect x="1200" y="384" width="6" fill="#5fc"/><rect x="1206" y="384" width="6" fill="#6fc"/><rect x="1212" y="384" width="6" fill="#7fb"/><rect x="1218" y="384" width="12" fill="#8fb"/><rect x="1230" y="384" width="6" fill="#9fb"/><rect x="1236" y="384" width="6" fill="#afb"/><rect x="1242" y="384" width="12" fill="#bfb"/><rect x="1254" y="384" width="6" fill="#cfb"/><rect x="1260" y="384" width="12" fill="#dfb"/><rect x="1272" y="384" width="6" fill="#efb"/><rect x="1278" y="384" width="6" fill="#ffb"/><rect x="1284" y="384" width="12" fill="#fea"/><rect x="1296" y="384" width="6" fill="#fd9"/><rect x="1302" y="384" width="6" fill="#fd8"/><rect x="1308" y="384" width="12" fill="#fc8"/><rect x="1320" y="384" width="12" fill="#fb7"/><rect x="1332" y="384" width="18" fill="#fa6"/><rect x="1350" y="384" width="12" fill="#f95"/><rect x="1362" y="384" width="6" fill="#f85"/><rect x="1368" y="384" width="12" fill="#f84"/><rect x="1380" y="384" width="18" fill="#f73"/><rect x="1398" y="384" width="6" fill="#f72"/><rect x="1404" y="384" width="6" fill="#f62"/><rect x="1410" y="384" width="12" fill="#f61"/><rect x="1422" y="384" width="6" fill="#f60"/><rect x="1428" y="384" width="24" fill="#f50"/><rect x="1452" y="384" width="18" fill="#f40"/><rect x="1470" y="384" width="24" fill="#f30"/><rect x="1494" y="384" width="18" fill="#f20"/><rect x="1068" y="390" width="72" fill="#0fd"/><rect x="1140" y="390" width="42" fill="#0fc"/><rect x="1182" y="390" width="6" fill="#1fc"/><rect x="1188" y="390" width="6" fill="#3fc"/><rect x="1194" y="390" width="6" fill="#4fc"/><rect x="1200" y="390" width="6" fill="#5fc"/><rect x="1206" y="390" width="6" fill="#6fc"/><rect x="1212" y="390" width="6" fill="#7fc"/><rect x="1218" y="390" width="6" fill="#8fc"/><rect x="1224" y="390" width="12" fill="#9fc"/><rect x="1236" y="390" width="6" fill="#afc"/><rect x="1242" y="390" width="6" fill="#bfc"/><rect x="1248" y="390" width="12" fill="#cfc"/><rect x="1260" y="390" width="6" fill="#dfc"/><rect x="1266" y="390" width="6" fill="#efb"/><rect x="1272" y="390" width="12" fill="#ffb"/><rect x="1284" y="390" width="6" fill="#fea"/><rect x="1290" y="390" width="6" fill="#fda"/><rect x="1296" y="390" width="6" fill="#fd9"/><rect x="1302" y="390" width="6" fill="#fc9"/><rect x="1308" y="390" width="6" fill="#fc8"/><rect x="1314" y="390" width="12" fill="#fb8"/><rect x="1326" y="390" width="12" fill="#fa7"/><rect x="1338" y="390" width="6" fill="#fa6"/><rect x="1344" y="390" width="12" fill="#f96"/><rect x="1356" y="390" width="18" fill="#f85"/><rect x="1374" y="390" width="18" fill="#f74"/><rect x="1392" y="390" width="6" fill="#f73"/><rect x="1398" y="390" width="6" fill="#f63"/><rect x="1404" y="390" width="12" fill="#f62"/><rect x="1416" y="390" width="6" fill="#f52"/><rect x="1422" y="390" width="6" fill="#f51"/><rect x="1428" y="390" width="12" fill="#f50"/><rect x="1440" y="390" width="24" fill="#f40"/><rect x="1464" y="390" width="18" fill="#f30"/><rect x="1482" y="390" width="18" fill="#f20"/><rect x="1500" y="390" width="12" fill="#f10"/><rect x="1512" y="390" width="6" fill="#f00"/><rect x="1068" y="396" width="114" fill="#0fd"/><rect x="1182" y="396" width="6" fill="#1fd"/><rect x="1188" y="396" width="6" fill="#3fd"/><rect x="1194" y="396" width="6" fill="#4fd"/><rect x="1200" y="396" width="12" fill="#6fd"/><rect x="1212" y="396" width="6" fill="#7fd"/><rect x="1218" y="396" width="6" fill="#8fd"/><rect x="1224" y="396" width="6" fill="#9fc"/><rect x="1230" y="396" width="6" fill="#afc"/><rect x="1236" y="396" width="12" fill="#bfc"/><rect x="1248" y="396" width="6" fill="#cfc"/><rect x="1254" y="396" width="6" fill="#dfc"/><rect x="1260" y="396" width="12" fill="#efc"/><rect x="1272" y="396" width="6" fill="#ffc"/><rect x="1278" y="396" width="12" fill="#feb"/><rect x="1290" y="396" width="6" fill="#fda"/><rect x="1296" y="396" width="6" fill="#fca"/><rect x="1302" y="396" width="6" fill="#fc9"/><rect x="1308" y="396" width="6" fill="#fb9"/><rect x="1314" y="396" width="6" fill="#fb8"/><rect x="1320" y="396" width="6" fill="#fa8"/><rect x="1326" y="396" width="12" fill="#fa7"/><rect x="1338" y="396" width="6" fill="#f97"/><rect x="1344" y="396" width="6" fill="#f96"/><rect x="1350" y="396" width="12" fill="#f86"/><rect x="1362" y="396" width="6" fill="#f85"/><rect x="1368" y="396" width="12" fill="#f75"/><rect x="1380" y="396" width="12" fill="#f74"/><rect x="1392" y="396" width="6" fill="#f64"/><rect x="1398" y="396" width="12" fill="#f63"/><rect x="1410" y="396" width="6" fill="#f53"/><rect x="1416" y="396" width="12" fill="#f52"/><rect x="1428" y="396" width="6" fill="#f51"/><rect x="1434" y="396" width="6" fill="#f41"/><rect x="1440" y="396" width="12" fill="#f40"/><rect x="1452" y="396" width="24" fill="#f30"/><rect x="1476" y="396" width="18" fill="#f20"/><rect x="1494" y="396" width="6" fill="#f10"/><rect x="1500" y="396" width="30" fill="#f00"/><rect x="1074" y="402" width="36" fill="#0fe"/><rect x="1110" y="402" width="72" fill="#0fd"/><rect x="1182" y="402" width="6" fill="#2fd"/><rect x="1188" y="402" width="6" fill="#4fd"/><rect x="1194" y="402" width="6" fill="#5fd"/><rect x="1200" y="402" width="6" fill="#6fd"/><rect x="1206" y="402" width="6" fill="#7fd"/><rect x="1212" y="402" width="6" fill="#8fd"/><rect x="1218" y="402" width="12" fill="#9fd"/><rect x="1230" y="402" width="6" fill="#afd"/><rect x="1236" y="402" width="6" fill="#bfd"/><rect x="1242" y="402" width="12" fill="#cfd"/><rect x="1254" y="402" width="6" fill="#dfd"/><rect x="1260" y="402" width="6" fill="#efd"/><rect x="1266" y="402" width="6" fill="#ffd"/><rect x="1272" y="402" width="12" fill="#fec"/><rect x="1284" y="402" width="6" fill="#fdb"/><rect x="1290" y="402" width="12" fill="#fca"/><rect x="1302" y="402" width="12" fill="#fb9"/><rect x="1314" y="402" width="6" fill="#fa9"/><rect x="1320" y="402" width="12" fill="#fa8"/><rect x="1332" y="402" width="12" fill="#f97"/><rect x="1344" y="402" width="6" fill="#f87"/><rect x="1350" y="402" width="12" fill="#f86"/><rect x="1362" y="402" width="6" fill="#f76"/><rect x="1368" y="402" width="12" fill="#f75"/><rect x="1380" y="402" width="6" fill="#f65"/><rect x="1386" y="402" width="18" fill="#f64"/><rect x="1404" y="402" width="6" fill="#f54"/><rect x="1410" y="402" width="12" fill="#f53"/><rect x="1422" y="402" width="6" fill="#f43"/><rect x="1428" y="402" width="12" fill="#f42"/><rect x="1440" y="402" width="6" fill="#f41"/><rect x="1446" y="402" width="6" fill="#f31"/><rect x="1452" y="402" width="12" fill="#f30"/><rect x="1464" y="402" width="18" fill="#f20"/><rect x="1482" y="402" width="12" fill="#f10"/><rect x="1494" y="402" width="42" fill="#f00"/><rect x="1074" y="408" width="108" fill="#0fe"/><rect x="1182" y="408" width="6" fill="#3fe"/><rect x="1188" y="408" width="6" fill="#4fe"/><rect x="1194" y="408" width="6" fill="#5fe"/><rect x="1200" y="408" width="6" fill="#6fe"/><rect x="1206" y="408" width="6" fill="#7fe"/><rect x="1212" y="408" width="6" fill="#8fe"/><rect x="1218" y="408" width="6" fill="#9fe"/><rect x="1224" y="408" width="6" fill="#afe"/><rect x="1230" y="408" width="12" fill="#bfe"/><rect x="1242" y="408" width="6" fill="#cfe"/><rect x="1248" y="408" width="6" fill="#dfe"/><rect x="1254" y="408" width="6" fill="#efe"/><rect x="1260" y="408" width="6" fill="#ffe"/><rect x="1266" y="408" width="6" fill="#ffd"/><rect x="1272" y="408" width="6" fill="#fed"/><rect x="1278" y="408" width="6" fill="#fdc"/><rect x="1284" y="408" width="6" fill="#fdb"/><rect x="1290" y="408" width="6" fill="#fcb"/><rect x="1296" y="408" width="12" fill="#fba"/><rect x="1308" y="408" width="12" fill="#fa9"/><rect x="1320" y="408" width="6" fill="#fa8"/><rect x="1326" y="408" width="12" fill="#f98"/><rect x="1338" y="408" width="18" fill="#f87"/><rect x="1356" y="408" width="18" fill="#f76"/><rect x="1374" y="408" width="18" fill="#f65"/><rect x="1392" y="408" width="6" fill="#f55"/><rect x="1398" y="408" width="18" fill="#f54"/><rect x="1416" y="408" width="18" fill="#f43"/><rect x="1434" y="408" width="18" fill="#f32"/><rect x="1452" y="408" width="6" fill="#f31"/><rect x="1458" y="408" width="12" fill="#f20"/><rect x="1470" y="408" width="12" fill="#f10"/><rect x="1482" y="408" width="60" fill="#f00"/><rect x="1074" y="414" width="102" fill="#0fe"/><rect x="1176" y="414" width="6" fill="#1fe"/><rect x="1182" y="414" width="6" fill="#3fe"/><rect x="1188" y="414" width="6" fill="#4fe"/><rect x="1194" y="414" width="6" fill="#6fe"/><rect x="1200" y="414" width="6" fill="#7fe"/><rect x="1206" y="414" width="12" fill="#8fe"/><rect x="1218" y="414" width="6" fill="#9fe"/><rect x="1224" y="414" width="6" fill="#afe"/><rect x="1230" y="414" width="6" fill="#bfe"/><rect x="1236" y="414" width="6" fill="#cfe"/><rect x="1242" y="414" width="12" fill="#dfe"/><rect x="1254" y="414" width="6" fill="#efe"/><rect x="1260" y="414" width="6" fill="#ffe"/><rect x="1266" y="414" width="6" fill="#fee"/><rect x="1272" y="414" width="6" fill="#fdd"/><rect x="1278" y="414" width="6" fill="#fdc"/><rect x="1284" y="414" width="6" fill="#fcc"/><rect x="1290" y="414" width="6" fill="#fcb"/><rect x="1296" y="414" width="6" fill="#fbb"/><rect x="1302" y="414" width="6" fill="#fba"/><rect x="1308" y="414" width="6" fill="#faa"/><rect x="1314" y="414" width="6" fill="#fa9"/><rect x="1320" y="414" width="6" fill="#f99"/><rect x="1326" y="414" width="6" fill="#f98"/><rect x="1332" y="414" width="12" fill="#f88"/><rect x="1344" y="414" width="6" fill="#f87"/><rect x="1350" y="414" width="12" fill="#f77"/><rect x="1362" y="414" width="6" fill="#f76"/><rect x="1368" y="414" width="12" fill="#f66"/><rect x="1380" y="414" width="6" fill="#f65"/><rect x="1386" y="414" width="18" fill="#f55"/><rect x="1404" y="414" width="18" fill="#f44"/><rect x="1422" y="414" width="6" fill="#f43"/><rect x="1428" y="414" width="18" fill="#f33"/><rect x="1446" y="414" width="12" fill="#f22"/><rect x="1458" y="414" width="6" fill="#f21"/><rect x="1464" y="414" width="6" fill="#f11"/><rect x="1470" y="414" width="78" fill="#f00"/><rect x="1074" y="420" width="102" fill="#0ff"/><rect x="1176" y="420" width="6" fill="#2ff"/><rect x="1182" y="420" width="6" fill="#4ff"/><rect x="1188" y="420" width="6" fill="#5ff"/><rect x="1194" y="420" width="6" fill="#6ff"/><rect x="1200" y="420" width="6" fill="#7ff"/><rect x="1206" y="420" width="6" fill="#8ff"/><rect x="1212" y="420" width="6" fill="#9ff"/><rect x="1218" y="420" width="6" fill="#aff"/><rect x="1224" y="420" width="12" fill="#bff"/><rect x="1236" y="420" width="6" fill="#cff"/><rect x="1242" y="420" width="6" fill="#dff"/><rect x="1248" y="420" width="6" fill="#eff"/><rect x="1254" y="420" width="6" fill="#fff"/><rect x="1260" y="420" width="6" fill="#fef"/><rect x="1266" y="420" width="6" fill="#fee"/><rect x="1272" y="420" width="6" fill="#fdd"/><rect x="1278" y="420" width="12" fill="#fcc"/><rect x="1290" y="420" width="12" fill="#fbb"/><rect x="1302" y="420" width="12" fill="#faa"/><rect x="1314" y="420" width="12" fill="#f99"/><rect x="1326" y="420" width="6" fill="#f89"/><rect x="1332" y="420" width="12" fill="#f88"/><rect x="1344" y="420" width="6" fill="#f78"/><rect x="1350" y="420" width="12" fill="#f77"/><rect x="1362" y="420" width="6" fill="#f67"/><rect x="1368" y="420" width="12" fill="#f66"/><rect x="1380" y="420" width="6" fill="#f56"/><rect x="1386" y="420" width="12" fill="#f55"/><rect x="1398" y="420" width="12" fill="#f45"/><rect x="1410" y="420" width="6" fill="#f44"/><rect x="1416" y="420" width="18" fill="#f34"/><rect x="1434" y="420" width="18" fill="#f23"/><rect x="1452" y="420" width="6" fill="#f12"/><rect x="1458" y="420" width="12" fill="#f02"/><rect x="1470" y="420" width="12" fill="#f01"/><rect x="1482" y="420" width="72" fill="#f00"/><rect x="1080" y="426" width="84" fill="#0ff"/><rect x="1164" y="426" width="12" fill="#0ef"/><rect x="1176" y="426" width="6" fill="#2ef"/><rect x="1182" y="426" width="6" fill="#4ef"/><rect x="1188" y="426" width="6" fill="#5ef"/><rect x="1194" y="426" width="6" fill="#6ef"/><rect x="1200" y="426" width="6" fill="#7ef"/><rect x="1206" y="426" width="6" fill="#8ef"/><rect x="1212" y="426" width="6" fill="#9ef"/><rect x="1218" y="426" width="12" fill="#aef"/><rect x="1230" y="426" width="6" fill="#bef"/><rect x="1236" y="426" width="6" fill="#cef"/><rect x="1242" y="426" width="6" fill="#def"/><rect x="1248" y="426" width="12" fill="#eef"/><rect x="1260" y="426" width="6" fill="#fef"/><rect x="1266" y="426" width="6" fill="#fde"/><rect x="1272" y="426" width="12" fill="#fcd"/><rect x="1284" y="426" width="12" fill="#fbc"/><rect x="1296" y="426" width="12" fill="#fab"/><rect x="1308" y="426" width="12" fill="#f9a"/><rect x="1320" y="426" width="18" fill="#f89"/><rect x="1338" y="426" width="12" fill="#f78"/><rect x="1350" y="426" width="6" fill="#f68"/><rect x="1356" y="426" width="12" fill="#f67"/><rect x="1368" y="426" width="6" fill="#f57"/><rect x="1374" y="426" width="18" fill="#f56"/><rect x="1392" y="426" width="6" fill="#f46"/><rect x="1398" y="426" width="12" fill="#f45"/><rect x="1410" y="426" width="6" fill="#f35"/><rect x="1416" y="426" width="12" fill="#f34"/><rect x="1428" y="426" width="12" fill="#f24"/><rect x="1440" y="426" width="12" fill="#f13"/><rect x="1452" y="426" width="12" fill="#f03"/><rect x="1464" y="426" width="18" fill="#f02"/><rect x="1482" y="426" width="6" fill="#f01"/><rect x="1488" y="426" width="54" fill="#f00"/><rect x="1080" y="432" width="96" fill="#0ef"/><rect x="1176" y="432" width="6" fill="#3ef"/><rect x="1182" y="432" width="6" fill="#4ef"/><rect x="1188" y="432" width="6" fill="#5ef"/><rect x="1194" y="432" width="6" fill="#6ef"/><rect x="1200" y="432" width="6" fill="#7ef"/><rect x="1206" y="432" width="6" fill="#8ef"/><rect x="1212" y="432" width="6" fill="#9ef"/><rect x="1218" y="432" width="12" fill="#aef"/><rect x="1230" y="432" width="6" fill="#bef"/><rect x="1236" y="432" width="6" fill="#cdf"/><rect x="1242" y="432" width="6" fill="#ddf"/><rect x="1248" y="432" width="12" fill="#edf"/><rect x="1260" y="432" width="6" fill="#fdf"/><rect x="1266" y="432" width="12" fill="#fce"/><rect x="1278" y="432" width="6" fill="#fbd"/><rect x="1284" y="432" width="6" fill="#fbc"/><rect x="1290" y="432" width="6" fill="#fac"/><rect x="1296" y="432" width="6" fill="#fab"/><rect x="1302" y="432" width="6" fill="#f9b"/><rect x="1308" y="432" width="6" fill="#f9a"/><rect x="1314" y="432" width="12" fill="#f8a"/><rect x="1326" y="432" width="6" fill="#f89"/><rect x="1332" y="432" width="6" fill="#f79"/><rect x="1338" y="432" width="6" fill="#f78"/><rect x="1344" y="432" width="18" fill="#f68"/><rect x="1362" y="432" width="18" fill="#f57"/><rect x="1380" y="432" width="18" fill="#f46"/><rect x="1398" y="432" width="6" fill="#f36"/><rect x="1404" y="432" width="12" fill="#f35"/><rect x="1416" y="432" width="12" fill="#f25"/><rect x="1428" y="432" width="12" fill="#f14"/><rect x="1440" y="432" width="6" fill="#f04"/><rect x="1446" y="432" width="24" fill="#f03"/><rect x="1470" y="432" width="18" fill="#f02"/><rect x="1488" y="432" width="12" fill="#f01"/><rect x="1500" y="432" width="24" fill="#f00"/><rect x="1080" y="438" width="78" fill="#0ef"/><rect x="1158" y="438" width="12" fill="#0df"/><rect x="1170" y="438" width="6" fill="#1df"/><rect x="1176" y="438" width="6" fill="#3df"/><rect x="1182" y="438" width="6" fill="#4df"/><rect x="1188" y="438" width="6" fill="#5df"/><rect x="1194" y="438" width="6" fill="#6df"/><rect x="1200" y="438" width="6" fill="#7df"/><rect x="1206" y="438" width="6" fill="#8df"/><rect x="1212" y="438" width="6" fill="#9df"/><rect x="1218" y="438" width="12" fill="#adf"/><rect x="1230" y="438" width="6" fill="#bdf"/><rect x="1236" y="438" width="6" fill="#cdf"/><rect x="1242" y="438" width="12" fill="#ddf"/><rect x="1254" y="438" width="6" fill="#edf"/><rect x="1260" y="438" width="6" fill="#fdf"/><rect x="1266" y="438" width="6" fill="#fce"/><rect x="1272" y="438" width="6" fill="#fbe"/><rect x="1278" y="438" width="6" fill="#fbd"/><rect x="1284" y="438" width="6" fill="#fad"/><rect x="1290" y="438" width="6" fill="#fac"/><rect x="1296" y="438" width="6" fill="#f9c"/><rect x="1302" y="438" width="6" fill="#f9b"/><rect x="1308" y="438" width="6" fill="#f8b"/><rect x="1314" y="438" width="6" fill="#f8a"/><rect x="1320" y="438" width="6" fill="#f7a"/><rect x="1326" y="438" width="12" fill="#f79"/><rect x="1338" y="438" width="6" fill="#f69"/><rect x="1344" y="438" width="12" fill="#f68"/><rect x="1356" y="438" width="6" fill="#f58"/><rect x="1362" y="438" width="12" fill="#f57"/><rect x="1374" y="438" width="12" fill="#f47"/><rect x="1386" y="438" width="6" fill="#f46"/><rect x="1392" y="438" width="12" fill="#f36"/><rect x="1404" y="438" width="6" fill="#f26"/><rect x="1410" y="438" width="12" fill="#f25"/><rect x="1422" y="438" width="6" fill="#f15"/><rect x="1428" y="438" width="6" fill="#f05"/><rect x="1434" y="438" width="24" fill="#f04"/><rect x="1458" y="438" width="24" fill="#f03"/><rect x="1482" y="438" width="18" fill="#f02"/><rect x="1500" y="438" width="12" fill="#f01"/><rect x="1086" y="444" width="84" fill="#0df"/><rect x="1170" y="444" width="6" fill="#2df"/><rect x="1176" y="444" width="6" fill="#3df"/><rect x="1182" y="444" width="6" fill="#4df"/><rect x="1188" y="444" width="12" fill="#6df"/><rect x="1200" y="444" width="6" fill="#7df"/><rect x="1206" y="444" width="6" fill="#8df"/><rect x="1212" y="444" width="6" fill="#9cf"/><rect x="1218" y="444" width="12" fill="#acf"/><rect x="1230" y="444" width="6" fill="#bcf"/><rect x="1236" y="444" width="6" fill="#ccf"/><rect x="1242" y="444" width="12" fill="#dcf"/><rect x="1254" y="444" width="6" fill="#ecf"/><rect x="1260" y="444" width="6" fill="#fcf"/><rect x="1266" y="444" width="6" fill="#fbf"/><rect x="1272" y="444" width="6" fill="#fbe"/><rect x="1278" y="444" width="12" fill="#fad"/><rect x="1290" y="444" width="12" fill="#f9c"/><rect x="1302" y="444" width="12" fill="#f8b"/><rect x="1314" y="444" width="18" fill="#f7a"/><rect x="1332" y="444" width="18" fill="#f69"/><rect x="1350" y="444" width="12" fill="#f58"/><rect x="1362" y="444" width="6" fill="#f48"/><rect x="1368" y="444" width="12" fill="#f47"/><rect x="1380" y="444" width="12" fill="#f37"/><rect x="1392" y="444" width="6" fill="#f36"/><rect x="1398" y="444" width="12" fill="#f26"/><rect x="1410" y="444" width="6" fill="#f16"/><rect x="1416" y="444" width="24" fill="#f05"/><rect x="1440" y="444" width="24" fill="#f04"/><rect x="1464" y="444" width="24" fill="#f03"/><rect x="1488" y="444" width="6" fill="#f02"/><rect x="1086" y="450" width="72" fill="#0df"/><rect x="1158" y="450" width="12" fill="#0cf"/><rect x="1170" y="450" width="6" fill="#2cf"/><rect x="1176" y="450" width="6" fill="#4cf"/><rect x="1182" y="450" width="6" fill="#5cf"/><rect x="1188" y="450" width="6" fill="#6cf"/><rect x="1194" y="450" width="12" fill="#7cf"/><rect x="1206" y="450" width="6" fill="#8cf"/><rect x="1212" y="450" width="6" fill="#9cf"/><rect x="1218" y="450" width="12" fill="#acf"/><rect x="1230" y="450" width="6" fill="#bcf"/><rect x="1236" y="450" width="6" fill="#ccf"/><rect x="1242" y="450" width="6" fill="#cbf"/><rect x="1248" y="450" width="6" fill="#dbf"/><rect x="1254" y="450" width="12" fill="#ebf"/><rect x="1266" y="450" width="6" fill="#fbf"/><rect x="1272" y="450" width="12" fill="#fae"/><rect x="1284" y="450" width="6" fill="#f9d"/><rect x="1290" y="450" width="6" fill="#f9c"/><rect x="1296" y="450" width="12" fill="#f8c"/><rect x="1308" y="450" width="12" fill="#f7b"/><rect x="1320" y="450" width="6" fill="#f7a"/><rect x="1326" y="450" width="12" fill="#f6a"/><rect x="1338" y="450" width="18" fill="#f59"/><rect x="1356" y="450" width="18" fill="#f48"/><rect x="1374" y="450" width="12" fill="#f37"/><rect x="1386" y="450" width="12" fill="#f27"/><rect x="1398" y="450" width="12" fill="#f16"/><rect x="1410" y="450" width="12" fill="#f06"/><rect x="1422" y="450" width="24" fill="#f05"/><rect x="1446" y="450" width="30" fill="#f04"/><rect x="1476" y="450" width="6" fill="#f03"/><rect x="1086" y="456" width="18" fill="#0df"/><rect x="1104" y="456" width="66" fill="#0cf"/><rect x="1170" y="456" width="6" fill="#2cf"/><rect x="1176" y="456" width="6" fill="#4cf"/><rect x="1182" y="456" width="6" fill="#5cf"/><rect x="1188" y="456" width="6" fill="#6cf"/><rect x="1194" y="456" width="6" fill="#7cf"/><rect x="1200" y="456" width="6" fill="#7bf"/><rect x="1206" y="456" width="6" fill="#8bf"/><rect x="1212" y="456" width="6" fill="#9bf"/><rect x="1218" y="456" width="12" fill="#abf"/><rect x="1230" y="456" width="6" fill="#bbf"/><rect x="1236" y="456" width="12" fill="#cbf"/><rect x="1248" y="456" width="6" fill="#dbf"/><rect x="1254" y="456" width="6" fill="#ebf"/><rect x="1260" y="456" width="6" fill="#eaf"/><rect x="1266" y="456" width="6" fill="#faf"/><rect x="1272" y="456" width="6" fill="#fae"/><rect x="1278" y="456" width="6" fill="#f9e"/><rect x="1284" y="456" width="6" fill="#f9d"/><rect x="1290" y="456" width="6" fill="#f8d"/><rect x="1296" y="456" width="6" fill="#f8c"/><rect x="1302" y="456" width="6" fill="#f7c"/><rect x="1308" y="456" width="6" fill="#f7b"/><rect x="1314" y="456" width="12" fill="#f6b"/><rect x="1326" y="456" width="6" fill="#f6a"/><rect x="1332" y="456" width="6" fill="#f5a"/><rect x="1338" y="456" width="12" fill="#f59"/><rect x="1350" y="456" width="6" fill="#f49"/><rect x="1356" y="456" width="6" fill="#f48"/><rect x="1362" y="456" width="18" fill="#f38"/><rect x="1380" y="456" width="12" fill="#f27"/><rect x="1392" y="456" width="6" fill="#f17"/><rect x="1398" y="456" width="6" fill="#f07"/><rect x="1404" y="456" width="24" fill="#f06"/><rect x="1428" y="456" width="30" fill="#f05"/><rect x="1458" y="456" width="6" fill="#f04"/><rect x="1086" y="462" width="78" fill="#0cf"/><rect x="1164" y="462" width="6" fill="#1bf"/><rect x="1170" y="462" width="6" fill="#3bf"/><rect x="1176" y="462" width="6" fill="#4bf"/><rect x="1182" y="462" width="6" fill="#5bf"/><rect x="1188" y="462" width="6" fill="#6bf"/><rect x="1194" y="462" width="12" fill="#7bf"/><rect x="1206" y="462" width="6" fill="#8bf"/><rect x="1212" y="462" width="6" fill="#9bf"/><rect x="1218" y="462" width="12" fill="#abf"/><rect x="1230" y="462" width="6" fill="#baf"/><rect x="1236" y="462" width="12" fill="#caf"/><rect x="1248" y="462" width="12" fill="#daf"/><rect x="1260" y="462" width="6" fill="#eaf"/><rect x="1266" y="462" width="6" fill="#faf"/><rect x="1272" y="462" width="6" fill="#f9f"/><rect x="1278" y="462" width="6" fill="#f9e"/><rect x="1284" y="462" width="12" fill="#f8d"/><rect x="1296" y="462" width="12" fill="#f7c"/><rect x="1308" y="462" width="6" fill="#f6c"/><rect x="1314" y="462" width="12" fill="#f6b"/><rect x="1326" y="462" width="12" fill="#f5a"/><rect x="1338" y="462" width="6" fill="#f4a"/><rect x="1344" y="462" width="12" fill="#f49"/><rect x="1356" y="462" width="6" fill="#f39"/><rect x="1362" y="462" width="6" fill="#f38"/><rect x="1368" y="462" width="12" fill="#f28"/><rect x="1380" y="462" width="6" fill="#f18"/><rect x="1386" y="462" width="24" fill="#f07"/><rect x="1410" y="462" width="24" fill="#f06"/><rect x="1434" y="462" width="18" fill="#f05"/><rect x="1092" y="468" width="30" fill="#0cf"/><rect x="1122" y="468" width="42" fill="#0bf"/><rect x="1164" y="468" width="6" fill="#2bf"/><rect x="1170" y="468" width="6" fill="#3bf"/><rect x="1176" y="468" width="6" fill="#4bf"/><rect x="1182" y="468" width="6" fill="#5bf"/><rect x="1188" y="468" width="6" fill="#6bf"/><rect x="1194" y="468" width="6" fill="#7bf"/><rect x="1200" y="468" width="6" fill="#7af"/><rect x="1206" y="468" width="6" fill="#8af"/><rect x="1212" y="468" width="6" fill="#9af"/><rect x="1218" y="468" width="12" fill="#aaf"/><rect x="1230" y="468" width="12" fill="#baf"/><rect x="1242" y="468" width="6" fill="#caf"/><rect x="1248" y="468" width="12" fill="#d9f"/><rect x="1260" y="468" width="6" fill="#e9f"/><rect x="1266" y="468" width="12" fill="#f9f"/><rect x="1278" y="468" width="12" fill="#f8e"/><rect x="1290" y="468" width="12" fill="#f7d"/><rect x="1302" y="468" width="12" fill="#f6c"/><rect x="1314" y="468" width="18" fill="#f5b"/><rect x="1332" y="468" width="12" fill="#f4a"/><rect x="1344" y="468" width="6" fill="#f3a"/><rect x="1350" y="468" width="6" fill="#f39"/><rect x="1356" y="468" width="12" fill="#f29"/><rect x="1368" y="468" width="6" fill="#f18"/><rect x="1374" y="468" width="18" fill="#f08"/><rect x="1392" y="468" width="24" fill="#f07"/><rect x="1416" y="468" width="18" fill="#f06"/><rect x="1092" y="474" width="72" fill="#0bf"/><rect x="1164" y="474" width="6" fill="#2bf"/><rect x="1170" y="474" width="6" fill="#3af"/><rect x="1176" y="474" width="6" fill="#4af"/><rect x="1182" y="474" width="6" fill="#5af"/><rect x="1188" y="474" width="6" fill="#6af"/><rect x="1194" y="474" width="6" fill="#7af"/><rect x="1200" y="474" width="12" fill="#8af"/><rect x="1212" y="474" width="6" fill="#9af"/><rect x="1218" y="474" width="6" fill="#aaf"/><rect x="1224" y="474" width="6" fill="#a9f"/><rect x="1230" y="474" width="12" fill="#b9f"/><rect x="1242" y="474" width="6" fill="#c9f"/><rect x="1248" y="474" width="12" fill="#d9f"/><rect x="1260" y="474" width="6" fill="#e9f"/><rect x="1266" y="474" width="6" fill="#e8f"/><rect x="1272" y="474" width="6" fill="#f8f"/><rect x="1278" y="474" width="6" fill="#f8e"/><rect x="1284" y="474" width="6" fill="#f7e"/><rect x="1290" y="474" width="6" fill="#f7d"/><rect x="1296" y="474" width="6" fill="#f6d"/><rect x="1302" y="474" width="6" fill="#f6c"/><rect x="1308" y="474" width="12" fill="#f5c"/><rect x="1320" y="474" width="12" fill="#f4b"/><rect x="1332" y="474" width="6" fill="#f4a"/><rect x="1338" y="474" width="12" fill="#f3a"/><rect x="1350" y="474" width="12" fill="#f29"/><rect x="1362" y="474" width="6" fill="#f19"/><rect x="1368" y="474" width="6" fill="#f09"/><rect x="1374" y="474" width="24" fill="#f08"/><rect x="1398" y="474" width="24" fill="#f07"/><rect x="1098" y="480" width="42" fill="#0bf"/><rect x="1140" y="480" width="24" fill="#0af"/><rect x="1164" y="480" width="6" fill="#2af"/><rect x="1170" y="480" width="6" fill="#4af"/><rect x="1176" y="480" width="12" fill="#5af"/><rect x="1188" y="480" width="6" fill="#6af"/><rect x="1194" y="480" width="6" fill="#7af"/><rect x="1200" y="480" width="12" fill="#89f"/><rect x="1212" y="480" width="6" fill="#99f"/><rect x="1218" y="480" width="12" fill="#a9f"/><rect x="1230" y="480" width="12" fill="#b9f"/><rect x="1242" y="480" width="6" fill="#c8f"/><rect x="1248" y="480" width="12" fill="#d8f"/><rect x="1260" y="480" width="12" fill="#e8f"/><rect x="1272" y="480" width="12" fill="#f7f"/><rect x="1284" y="480" width="6" fill="#f7e"/><rect x="1290" y="480" width="12" fill="#f6d"/><rect x="1302" y="480" width="6" fill="#f5d"/><rect x="1308" y="480" width="6" fill="#f5c"/><rect x="1314" y="480" width="6" fill="#f4c"/><rect x="1320" y="480" width="6" fill="#f4b"/><rect x="1326" y="480" width="12" fill="#f3b"/><rect x="1338" y="480" width="12" fill="#f2a"/><rect x="1350" y="480" width="6" fill="#f1a"/><rect x="1356" y="480" width="18" fill="#f09"/><rect x="1374" y="480" width="24" fill="#f08"/><rect x="1398" y="480" width="6" fill="#f07"/><rect x="1098" y="486" width="12" fill="#0bf"/><rect x="1110" y="486" width="48" fill="#0af"/><rect x="1158" y="486" width="6" fill="#1af"/><rect x="1164" y="486" width="6" fill="#3af"/><rect x="1170" y="486" width="6" fill="#4af"/><rect x="1176" y="486" width="6" fill="#59f"/><rect x="1182" y="486" width="12" fill="#69f"/><rect x="1194" y="486" width="6" fill="#79f"/><rect x="1200" y="486" width="12" fill="#89f"/><rect x="1212" y="486" width="6" fill="#99f"/><rect x="1218" y="486" width="6" fill="#a9f"/><rect x="1224" y="486" width="6" fill="#a8f"/><rect x="1230" y="486" width="12" fill="#b8f"/><rect x="1242" y="486" width="12" fill="#c8f"/><rect x="1254" y="486" width="6" fill="#d7f"/><rect x="1260" y="486" width="12" fill="#e7f"/><rect x="1272" y="486" width="6" fill="#f7f"/><rect x="1278" y="486" width="6" fill="#f6f"/><rect x="1284" y="486" width="6" fill="#f6e"/><rect x="1290" y="486" width="6" fill="#f5e"/><rect x="1296" y="486" width="6" fill="#f5d"/><rect x="1302" y="486" width="6" fill="#f4d"/><rect x="1308" y="486" width="12" fill="#f4c"/><rect x="1320" y="486" width="12" fill="#f3b"/><rect x="1332" y="486" width="6" fill="#f2b"/><rect x="1338" y="486" width="6" fill="#f1a"/><rect x="1344" y="486" width="18" fill="#f0a"/><rect x="1362" y="486" width="18" fill="#f09"/><rect x="1380" y="486" width="12" fill="#f08"/><rect x="1098" y="492" width="54" fill="#0af"/><rect x="1152" y="492" width="6" fill="#09f"/><rect x="1158" y="492" width="6" fill="#19f"/><rect x="1164" y="492" width="6" fill="#39f"/><rect x="1170" y="492" width="6" fill="#49f"/><rect x="1176" y="492" width="6" fill="#59f"/><rect x="1182" y="492" width="12" fill="#69f"/><rect x="1194" y="492" width="6" fill="#79f"/><rect x="1200" y="492" width="12" fill="#88f"/><rect x="1212" y="492" width="12" fill="#98f"/><rect x="1224" y="492" width="6" fill="#a8f"/><rect x="1230" y="492" width="6" fill="#b8f"/><rect x="1236" y="492" width="6" fill="#b7f"/><rect x="1242" y="492" width="12" fill="#c7f"/><rect x="1254" y="492" width="12" fill="#d7f"/><rect x="1266" y="492" width="6" fill="#e6f"/><rect x="1272" y="492" width="12" fill="#f6f"/><rect x="1284" y="492" width="12" fill="#f5e"/><rect x="1296" y="492" width="12" fill="#f4d"/><rect x="1308" y="492" width="12" fill="#f3c"/><rect x="1320" y="492" width="6" fill="#f2c"/><rect x="1326" y="492" width="6" fill="#f2b"/><rect x="1332" y="492" width="6" fill="#f1b"/><rect x="1338" y="492" width="6" fill="#f0b"/><rect x="1344" y="492" width="18" fill="#f0a"/><rect x="1362" y="492" width="12" fill="#f09"/><rect x="1104" y="498" width="24" fill="#0af"/><rect x="1128" y="498" width="30" fill="#09f"/><rect x="1158" y="498" width="6" fill="#29f"/><rect x="1164" y="498" width="6" fill="#39f"/><rect x="1170" y="498" width="6" fill="#49f"/><rect x="1176" y="498" width="6" fill="#59f"/><rect x="1182" y="498" width="12" fill="#68f"/><rect x="1194" y="498" width="6" fill="#78f"/><rect x="1200" y="498" width="12" fill="#88f"/><rect x="1212" y="498" width="6" fill="#98f"/><rect x="1218" y="498" width="6" fill="#97f"/><rect x="1224" y="498" width="6" fill="#a7f"/><rect x="1230" y="498" width="12" fill="#b7f"/><rect x="1242" y="498" width="6" fill="#c7f"/><rect x="1248" y="498" width="6" fill="#c6f"/><rect x="1254" y="498" width="12" fill="#d6f"/><rect x="1266" y="498" width="6" fill="#e6f"/><rect x="1272" y="498" width="6" fill="#e5f"/><rect x="1278" y="498" width="6" fill="#f5f"/><rect x="1284" y="498" width="6" fill="#f5e"/><rect x="1290" y="498" width="6" fill="#f4e"/><rect x="1296" y="498" width="6" fill="#f4d"/><rect x="1302" y="498" width="6" fill="#f3d"/><rect x="1308" y="498" width="6" fill="#f2d"/><rect x="1314" y="498" width="6" fill="#f2c"/><rect x="1320" y="498" width="6" fill="#f1c"/><rect x="1326" y="498" width="18" fill="#f0b"/><rect x="1344" y="498" width="18" fill="#f0a"/><rect x="1104" y="504" width="54" fill="#09f"/><rect x="1158" y="504" width="6" fill="#28f"/><rect x="1164" y="504" width="6" fill="#38f"/><rect x="1170" y="504" width="6" fill="#48f"/><rect x="1176" y="504" width="6" fill="#58f"/><rect x="1182" y="504" width="12" fill="#68f"/><rect x="1194" y="504" width="6" fill="#78f"/><rect x="1200" y="504" width="12" fill="#87f"/><rect x="1212" y="504" width="12" fill="#97f"/><rect x="1224" y="504" width="6" fill="#a7f"/><rect x="1230" y="504" width="6" fill="#b7f"/><rect x="1236" y="504" width="6" fill="#b6f"/><rect x="1242" y="504" width="12" fill="#c6f"/><rect x="1254" y="504" width="6" fill="#d6f"/><rect x="1260" y="504" width="6" fill="#d5f"/><rect x="1266" y="504" width="12" fill="#e5f"/><rect x="1278" y="504" width="12" fill="#f4f"/><rect x="1290" y="504" width="12" fill="#f3e"/><rect x="1302" y="504" width="6" fill="#f2d"/><rect x="1308" y="504" width="6" fill="#f1d"/><rect x="1314" y="504" width="18" fill="#f0c"/><rect x="1332" y="504" width="12" fill="#f0b"/><rect x="1110" y="510" width="30" fill="#09f"/><rect x="1140" y="510" width="12" fill="#08f"/><rect x="1152" y="510" width="6" fill="#18f"/><rect x="1158" y="510" width="6" fill="#38f"/><rect x="1164" y="510" width="12" fill="#48f"/><rect x="1176" y="510" width="6" fill="#58f"/><rect x="1182" y="510" width="6" fill="#67f"/><rect x="1188" y="510" width="12" fill="#77f"/><rect x="1200" y="510" width="12" fill="#87f"/><rect x="1212" y="510" width="6" fill="#97f"/><rect x="1218" y="510" width="6" fill="#96f"/><rect x="1224" y="510" width="6" fill="#a6f"/><rect x="1230" y="510" width="12" fill="#b6f"/><rect x="1242" y="510" width="12" fill="#c5f"/><rect x="1254" y="510" width="12" fill="#d5f"/><rect x="1266" y="510" width="12" fill="#e4f"/><rect x="1278" y="510" width="12" fill="#f3f"/><rect x="1290" y="510" width="6" fill="#f2e"/><rect x="1296" y="510" width="6" fill="#f1e"/><rect x="1302" y="510" width="18" fill="#f0d"/><rect x="1320" y="510" width="12" fill="#f0c"/><rect x="1110" y="516" width="6" fill="#09f"/><rect x="1116" y="516" width="36" fill="#08f"/><rect x="1152" y="516" width="6" fill="#18f"/><rect x="1158" y="516" width="6" fill="#38f"/><rect x="1164" y="516" width="6" fill="#47f"/><rect x="1170" y="516" width="12" fill="#57f"/><rect x="1182" y="516" width="6" fill="#67f"/><rect x="1188" y="516" width="12" fill="#77f"/><rect x="1200" y="516" width="12" fill="#86f"/><rect x="1212" y="516" width="12" fill="#96f"/><rect x="1224" y="516" width="6" fill="#a6f"/><rect x="1230" y="516" width="12" fill="#b5f"/><rect x="1242" y="516" width="12" fill="#c5f"/><rect x="1254" y="516" width="12" fill="#d4f"/><rect x="1266" y="516" width="12" fill="#e3f"/><rect x="1278" y="516" width="12" fill="#f2f"/><rect x="1290" y="516" width="6" fill="#f1e"/><rect x="1296" y="516" width="12" fill="#f0e"/><rect x="1308" y="516" width="6" fill="#f0d"/><rect x="1116" y="522" width="30" fill="#08f"/><rect x="1146" y="522" width="6" fill="#07f"/><rect x="1152" y="522" width="6" fill="#27f"/><rect x="1158" y="522" width="6" fill="#37f"/><rect x="1164" y="522" width="6" fill="#47f"/><rect x="1170" y="522" width="12" fill="#57f"/><rect x="1182" y="522" width="6" fill="#67f"/><rect x="1188" y="522" width="12" fill="#76f"/><rect x="1200" y="522" width="12" fill="#86f"/><rect x="1212" y="522" width="6" fill="#96f"/><rect x="1218" y="522" width="6" fill="#95f"/><rect x="1224" y="522" width="12" fill="#a5f"/><rect x="1236" y="522" width="6" fill="#b5f"/><rect x="1242" y="522" width="6" fill="#b4f"/><rect x="1248" y="522" width="6" fill="#c4f"/><rect x="1254" y="522" width="6" fill="#c3f"/><rect x="1260" y="522" width="12" fill="#d3f"/><rect x="1272" y="522" width="6" fill="#e2f"/><rect x="1278" y="522" width="6" fill="#e1f"/><rect x="1284" y="522" width="12" fill="#f0f"/><rect x="1296" y="522" width="6" fill="#f0e"/><rect x="1116" y="528" width="12" fill="#08f"/><rect x="1128" y="528" width="24" fill="#07f"/><rect x="1152" y="528" width="6" fill="#27f"/><rect x="1158" y="528" width="6" fill="#37f"/><rect x="1164" y="528" width="6" fill="#47f"/><rect x="1170" y="528" width="6" fill="#56f"/><rect x="1176" y="528" width="12" fill="#66f"/><rect x="1188" y="528" width="12" fill="#76f"/><rect x="1200" y="528" width="12" fill="#85f"/><rect x="1212" y="528" width="12" fill="#95f"/><rect x="1224" y="528" width="12" fill="#a4f"/><rect x="1236" y="528" width="6" fill="#b4f"/><rect x="1242" y="528" width="6" fill="#b3f"/><rect x="1248" y="528" width="12" fill="#c3f"/><rect x="1260" y="528" width="6" fill="#d2f"/><rect x="1266" y="528" width="6" fill="#d1f"/><rect x="1272" y="528" width="12" fill="#e0f"/><rect x="1122" y="534" width="24" fill="#07f"/><rect x="1146" y="534" width="6" fill="#17f"/><rect x="1152" y="534" width="6" fill="#26f"/><rect x="1158" y="534" width="6" fill="#36f"/><rect x="1164" y="534" width="6" fill="#46f"/><rect x="1170" y="534" width="6" fill="#56f"/><rect x="1176" y="534" width="12" fill="#66f"/><rect x="1188" y="534" width="12" fill="#75f"/><rect x="1200" y="534" width="12" fill="#85f"/><rect x="1212" y="534" width="12" fill="#94f"/><rect x="1224" y="534" width="6" fill="#a4f"/><rect x="1230" y="534" width="6" fill="#a3f"/><rect x="1236" y="534" width="12" fill="#b3f"/><rect x="1248" y="534" width="6" fill="#c2f"/><rect x="1254" y="534" width="6" fill="#c1f"/><rect x="1260" y="534" width="12" fill="#d0f"/><rect x="1122" y="540" width="18" fill="#07f"/><rect x="1140" y="540" width="6" fill="#06f"/><rect x="1146" y="540" width="6" fill="#16f"/><rect x="1152" y="540" width="6" fill="#36f"/><rect x="1158" y="540" width="12" fill="#46f"/><rect x="1170" y="540" width="6" fill="#56f"/><rect x="1176" y="540" width="12" fill="#65f"/><rect x="1188" y="540" width="12" fill="#75f"/><rect x="1200" y="540" width="12" fill="#84f"/><rect x="1212" y="540" width="6" fill="#94f"/><rect x="1218" y="540" width="6" fill="#93f"/><rect x="1224" y="540" width="12" fill="#a3f"/><rect x="1236" y="540" width="12" fill="#b2f"/><rect x="1248" y="540" width="6" fill="#c1f"/><rect x="1128" y="546" width="18" fill="#06f"/><rect x="1146" y="546" width="6" fill="#26f"/><rect x="1152" y="546" width="6" fill="#36f"/><rect x="1158" y="546" width="12" fill="#45f"/><rect x="1170" y="546" width="6" fill="#55f"/><rect x="1176" y="546" width="12" fill="#65f"/><rect x="1188" y="546" width="12" fill="#74f"/><rect x="1200" y="546" width="6" fill="#84f"/><rect x="1206" y="546" width="6" fill="#83f"/><rect x="1212" y="546" width="12" fill="#93f"/><rect x="1224" y="546" width="12" fill="#a2f"/><rect x="1236" y="546" width="6" fill="#b1f"/><rect x="1134" y="552" width="12" fill="#06f"/><rect x="1146" y="552" width="6" fill="#25f"/><rect x="1152" y="552" width="6" fill="#35f"/><rect x="1158" y="552" width="6" fill="#45f"/><rect x="1164" y="552" width="12" fill="#55f"/><rect x="1176" y="552" width="12" fill="#64f"/><rect x="1188" y="552" width="6" fill="#74f"/><rect x="1194" y="552" width="6" fill="#73f"/><rect x="1200" y="552" width="12" fill="#83f"/><rect x="1212" y="552" width="12" fill="#92f"/><rect x="1140" y="558" width="6" fill="#15f"/><rect x="1146" y="558" width="6" fill="#25f"/><rect x="1152" y="558" width="6" fill="#35f"/><rect x="1158" y="558" width="6" fill="#45f"/><rect x="1164" y="558" width="12" fill="#54f"/><rect x="1176" y="558" width="6" fill="#64f"/><rect x="1182" y="558" width="6" fill="#63f"/><rect x="1188" y="558" width="6" fill="#73f"/><rect x="1194" y="558" width="6" fill="#83f"/><rect x="1200" y="558" width="12" fill="#82f"/><rect x="1146" y="564" width="12" fill="#34f"/><rect x="1158" y="564" width="6" fill="#44f"/><rect x="1164" y="564" width="6" fill="#54f"/><rect x="1170" y="564" width="6" fill="#53f"/><rect x="1176" y="564" width="6" fill="#63f"/><rect x="1182" y="564" width="6" fill="#73f"/><rect x="1188" y="564" width="6" fill="#72f"/><rect x="1152" y="570" width="12" fill="#44f"/><rect x="1164" y="570" width="12" fill="#53f"/><rect x="1176" y="570" width="6" fill="#63f"/></g></g>
<path d="M1165.8,569.1 1165.7,569.1 1165.6,569.2 1165.4,569.2 1165.2,569.3 1165,569.3 1164.8,569.3 1164.4,569.3 1164,569.1 1163.2,568.7 1162.3,568.1 1161,567.1 1159.3,565.8 1157.1,564.1 1154.1,561.9 1150.4,559 1145.8,555 1140.1,549.2 1132.5,539 1130.8,536.3 1128.9,533.3 1127,530 1125,526.4 1122.9,522.4 1120.7,518.1 1118.4,513.3 1116,508.1 1113.4,502.4 1110.7,496.2 1107.9,489.6 1105,482.4 1101.9,474.6 1098.9,466.3 1095.8,457.4 1092.7,447.9 1089.6,437.7 1086.6,426.9 1083.6,415.5 1080.6,403.6 1077.6,391 1074.7,377.9 1071.9,364.4 1069.2,350.5 1066.6,336.3 1064.3,322 1062.2,307.6 1060.3,293.1 1058.7,278.8 1057.3,264.6 1056.3,250.6 1055.5,236.9 1055,223.6 1054.8,210.6 1054.9,198.1 1055.4,186 1056.3,174.5 1057.5,163.5 1059.1,153.2 1061.1,143.6 1063.6,134.8 1066.4,126.9 1069.5,119.8 1073.1,113.6 1076.9,108.3 1081,104.1 1085.4,100.8 1090,98.4 1094.8,96.8 1099.8,95.9 1104.9,95.7 1110,96.2 1115.3,97.1 1120.6,98.5 1126,100.2 1131.4,102.2 1136.8,104.4 1142.2,106.8 1147.6,109.2 1152.9,111.8 1158.1,114.5 1163.2,117.2 1168.3,120 1173.3,122.8 1178.3,125.7 1183.2,128.7 1188.1,131.7 1193,134.9 1197.8,138 1202.7,141.3 1207.5,144.6 1212.3,148 1217.2,151.4 1222,154.9 1226.8,158.4 1231.5,162 1236.3,165.6 1241.1,169.3 1245.8,173 1250.6,176.7 1255.3,180.5 1260.1,184.2 1264.8,188.1 1269.5,191.9 1274.3,195.8 1279.1,199.7 1283.8,203.6 1288.6,207.5 1293.4,211.4 1298.1,215.4 1302.9,219.4 1307.6,223.4 1312.3,227.4 1317.1,231.3 1321.8,235.3 1326.5,239.3 1331.2,243.3 1335.9,247.3 1340.6,251.3 1345.3,255.3 1350,259.2 1354.6,263.2 1359.2,267.1 1363.8,271.1 1368.4,275 1372.9,278.9 1377.5,282.7 1381.9,286.6 1386.4,290.4 1390.8,294.2 1395.2,297.9 1399.5,301.6 1403.8,305.3 1408.1,308.9 1412.3,312.5 1416.4,316.1 1420.6,319.6 1424.6,323 1428.6,326.4 1432.5,329.8 1436.4,333.1 1440.1,336.3 1443.8,339.5 1447.4,342.6 1450.9,345.6 1454.3,348.5 1457.6,351.3 1460.8,354 1463.9,356.7 1467,359.3 1469.9,361.8 1472.8,364.3 1475.7,366.8 1478.4,369.1 1481.1,371.4 1483.6,373.5 1486,375.6 1488.4,377.6 1490.6,379.5 1492.8,381.3 1494.8,383.1 1496.8,384.8 1498.7,386.4 1500.5,388 1502.3,389.5 1503.9,390.9 1505.5,392.2 1507,393.5 1508.5,394.8 1509.8,396 1511.2,397.1 1512.4,398.2 1513.6,399.2 1514.8,400.2 1515.9,401.1 1517,402 1518,402.9 1518.9,403.7 1519.9,404.5 1520.8,405.3 1521.6,406 1522.5,406.7 1523.3,407.4 1524.1,408.1 1524.8,408.8 1525.5,409.4 1526.2,410 1526.9,410.5 1527.5,411.1 1528.1,411.6 1532.8,415.5 1535.5,417.8 1536.8,419 1537.7,419.8 1538.4,420.3 1538.6,420.5Z" fill="none" stroke="#1d4a2a" stroke-width="2" stroke-linejoin="round"/>
<path d="M1145.8,555l-4.7,5.2 M1132.5,539l-5.8,3.9 M1110.7,496.2l-6.4,2.8 M1080.6,403.6l-6.8,1.7 M1057.3,264.6l-7,0.6 M1061.1,143.6l-6.8,-1.6 M1099.8,95.9l-0.7,-7 M1152.9,111.8l3.1,-6.3 M1202.7,141.3l3.9,-5.8 M1250.6,176.7l4.3,-5.5 M1298.1,215.4l4.5,-5.4 M1345.3,255.3l4.5,-5.3 M1390.8,294.2l4.6,-5.3 M1432.5,329.8l4.6,-5.3 M1467,359.3l4.5,-5.3 M1492.8,381.3l4.5,-5.3 M1509.8,396l4.5,-5.3 M1076.9,108.3l-5.4,-4.5 M1126,100.2l2.3,-6.6 M1178.3,125.7l3.6,-6 M1528.1,411.6l4.5,-5.3 M1538.6,420.5l4.6,-5.3" stroke="#333" stroke-width="1.3"/>
<path d="M1445.4,350.4 1446.2,350.8 1444.8,350 1441.8,348.6 1437.8,346.8 1433.2,344.8 1428.1,342.9 1422.8,341.1 1417.4,339.5 1411.9,338.1 1406.5,337 1401.1,336.1 1395.9,335.5 1390.8,335.1 1385.8,334.9 1380.9,334.9 1376.2,335 1371.7,335.3 1367.3,335.7 1363.1,336.2 1359,336.9 1355,337.6 1351.2,338.4 1347.5,339.3 1344,340.2 1340.6,341.1 1337.3,342.2 1334.1,343.2 1331,344.3 1328,345.4 1325.1,346.5 1322.3,347.6 1319.6,348.8 1317,349.9 1314.5,351.1 1312.1,352.3 1309.7,353.4 1307.4,354.6 1305.2,355.7 1303,356.9 1303,356.9 1289,365 1278,372.2 1269.3,378.5 1262.3,384 1256.6,388.8 1251.8,393 1247.8,396.6 1244.5,399.7 1241.6,402.5 1239.1,404.9 1236.9,407.1 1235.1,409 1233.4,410.8 1231.9,412.3 1230.6,413.7 1229.4,415 1228.3,416.1 1227.4,417.2 1226.5,418.2 1225.7,419 1224.9,419.9 1224.3,420.6 1223.7,421.3 1223.1,422 1222.6,422.6 1222.1,423.1 1221.6,423.6 1221.2,424.1 1220.8,424.6 1220.4,425 1220.1,425.4 1219.7,425.8 1219.4,426.2 1219.1,426.5 1218.9,426.8 1218.6,427.1 1218.3,427.4 1218.1,427.7 1217.9,428 1209.6,438.4" stroke="#101010" stroke-opacity="0.78" fill="none" stroke-width="2.2"/>
<path d="M1215.9,377.4L1254,433.4 M1261.8,349.4L1266.3,413.2 M1311,328.1L1294.2,387.5 M1350.2,321.4L1326.7,366.2 M1382.7,313.6L1350.2,358.4 M1411.8,323.7L1386,351.6 M1244.4,406.8L1237.3,399.6 M1249.8,401.6L1242.9,394.3 M1253.1,398.5L1246.4,391.1 M1257,395L1250.4,387.5 M1261.7,391L1255.2,383.4 M1274,381.3L1268,373.3 M1282.3,375.4L1276.6,367.1 M1292.5,368.7L1287.2,360.2 M1203.6,431.9L1214.6,444.4" stroke="#101010" stroke-opacity="0.78" fill="none" stroke-width="2.2"/>
<text transform="matrix(1.389,0,0,0.9522,1171.50,375.70)" class="tc">10000</text>
<text transform="matrix(1.389,0,0,0.9522,1243.60,342.20)" class="tc">6000</text>
<text transform="matrix(1.389,0,0,0.9522,1290.50,322.00)" class="tc">4000</text>
<text transform="matrix(1.389,0,0,0.9522,1329.30,313.60)" class="tc">3000</text>
<text transform="matrix(1.389,0,0,0.9522,1369.00,310.00)" class="tc">2500</text>
<text transform="matrix(1.389,0,0,0.9522,1372.40,366.30)" class="tc">2000</text>
<text transform="matrix(1.389,0,0,0.9522,1416.10,366.30)" class="tc">1500</text>
<text transform="matrix(1.867,0,0,1,1178.50,434.50)" class="tc">∞</text>
<text transform="matrix(1.091,0,0,0.8929,1211.60,310.00)" class="tk">T<tspan font-size="12" dy="5">C</tspan><tspan dy="-5">(K)</tspan></text>
<path d="M1490,376.5 L1117.6,129.6 L1153,559Z" fill="none" stroke="#c8902a" stroke-width="2.6" stroke-linejoin="round"/>
<path d="M1495.5,383.6 L1189.7,166.6 L1143.3,526.1Z" fill="none" stroke="#0a0a0a" stroke-width="3" stroke-linejoin="round"/>
<path d="M1520.4,404.8 L1160.5,114 L1134.2,543.4Z" fill="none" stroke="#f4f41c" stroke-width="3.8" stroke-linejoin="round"/>
<circle cx="1189.7" cy="166.6" r="4" fill="#111"/>
<circle cx="1117.6" cy="129.6" r="4" fill="#111"/>
<circle cx="1143.3" cy="526.1" r="4" fill="#111"/>
<circle cx="1161.5" cy="113.5" r="2.6" fill="#c83a3a"/>
<circle cx="1540.6" cy="419" r="4" fill="#111"/>
<text transform="matrix(1.236,0,0,0.8567,1082.00,84.30)" class="wl">520</text>
<text transform="matrix(1.236,0,0,0.8567,1205.80,130.50)" class="wl">540</text>
<text transform="matrix(1.236,0,0,0.8567,1303.00,203.20)" class="wl">560</text>
<text transform="matrix(1.236,0,0,0.8567,1395.20,283.00)" class="wl">580</text>
<text transform="matrix(1.236,0,0,0.8567,1471.00,349.80)" class="wl">600</text>
<text transform="matrix(1.236,0,0,0.8567,1513.20,386.60)" class="wl">620</text>
<text transform="matrix(1.236,0,0,0.8567,1548.50,425.00)" class="wl">700</text>
<text transform="matrix(1.236,0,0,0.8567,1049.80,420.50)" class="wl">490</text>
<text transform="matrix(1.236,0,0,0.8567,1067.30,504.70)" class="wl">480</text>
<text transform="matrix(1.236,0,0,0.8567,1090.10,548.50)" class="wl">470</text>
<text transform="matrix(1.236,0,0,0.8567,1104.50,568.40)" class="wl">460</text>
<text transform="matrix(1.236,0,0,0.8567,1176.00,576.00)" class="wl">380</text>
<rect x="1339" y="111" width="232" height="92" fill="#a9a9a9"/>
<path d="M1348,125.5H1416" stroke="#111" stroke-width="5"/>
<path d="M1348,153.3H1420" stroke="#cc9430" stroke-width="4.5"/>
<path d="M1352,187.8H1421" stroke="#f0f028" stroke-width="4.5"/>
<text transform="matrix(1.051,0,0,0.9033,1424.85,131.25)" class="lg" fill="#111">NTSC</text>
<text transform="matrix(1.038,0,0,0.9167,1425.25,162.80)" class="lg" fill="#d29a2c">Hybrid type</text>
<text transform="matrix(1.059,0,0,0.9605,1431.00,192.40)" class="lg" fill="#f2f22a">Rec2020</text>
<text transform="matrix(1.009,0,0,1.021,1458.30,99.40)" class="ct">CIE 1931</text></g></defs>
<g filter="url(#soft)"><rect width="1894" height="804" fill="#fff"/>
<path d="M139.9,685.6 150.9,685.3 172.2,685.2 183.1,684.6 190.7,683.7 197.4,682.5 202.9,681.0 208.0,679.1 212.5,676.8 217.4,673.5 221.0,670.3 224.9,666.0 228.2,661.3 231.5,655.4 234.4,649.0 236.7,642.3 239.1,634.4 241.3,625.3 244.0,613.2 246.4,601.0 248.5,588.8 250.4,576.7 253.5,551.3 255.5,530.0 257.1,505.7 258.5,479.2 261.9,402.7 263.4,377.1 265.5,348.5 269.8,299.4 271.2,285.2 272.6,276.0 274.3,267.2 275.4,263.2 276.0,261.9 276.6,261.3 277.2,261.5 278.1,263.1 279.4,268.3 281.4,279.6 282.7,290.3 287.5,350.7 292.2,401.4 296.7,454.4 299.1,478.8 301.6,499.1 306.1,529.3 312.4,564.4 320.1,603.7 322.6,614.7 325.0,623.5 328.2,633.0 331.2,640.4 334.4,646.6 338.3,652.5 340.9,655.8 343.1,658.1 348.1,662.6 350.8,664.5 353.6,666.2 356.4,667.4 358.3,668.0 360.2,668.4 362.0,668.5 363.9,668.4 365.6,668.0 369.1,666.5 373.2,663.5 377.7,659.1 382.3,653.4 386.2,647.4 390.1,640.3 393.2,632.9 396.1,624.3 398.6,614.5 400.5,604.5 402.3,591.3 404.7,570.8 407.3,545.3 409.8,518.7 412.2,489.2 414.6,457.6 416.8,424.1 419.0,386.5 422.9,311.2 429.0,176.7 430.7,146.0 433.0,118.5 436.4,86.0 437.4,78.6 438.5,72.7 439.6,68.9 440.1,68.0 440.5,67.8 440.9,68.0 441.2,68.5 442.2,71.2 443.1,75.5 444.2,82.2 446.4,101.1 448.5,124.8 454.0,203.8 457.0,268.0 458.7,302.7 462.6,370.0 465.5,414.9 467.8,445.4 470.3,472.8 479.5,561.2 481.3,576.4 483.2,588.6 485.3,599.5 488.1,610.4 491.2,620.1 495.1,629.6 499.2,637.9 503.6,645.0 507.4,649.8 511.0,653.3 515.0,656.1 519.6,658.1 524.6,659.3 527.8,659.6 531.0,659.6 534.2,659.3 537.4,658.8 542.4,657.2 547.0,655.0 551.2,652.2 555.7,648.2 559.7,643.6 563.9,637.8 568.2,630.7 571.9,623.5 575.3,616.0 578.2,608.4 580.8,600.7 583.3,591.8 585.5,582.9 588.9,566.0 595.0,529.7 597.8,514.6 601.8,496.7 610.9,459.0 614.2,444.0 616.1,434.0 617.6,425.0 622.1,391.6 624.0,379.4 626.7,364.3 633.5,329.8 634.8,324.7 636.1,320.5 637.7,316.0 639.7,311.4 641.4,308.4 642.6,306.8 644.4,305.2 645.6,304.9 646.9,305.2 648.7,306.7 650.4,309.1 652.6,313.4 654.9,319.1 656.7,324.5 658.1,329.7 659.6,336.7 664.7,364.4 669.9,395.4 684.9,495.5 690.2,528.8 694.1,550.8 697.9,568.7 700.4,578.5 703.1,588.3 706.3,598.0 709.4,606.7 712.9,615.3 716.8,623.8 720.6,631.3 724.7,638.5 729.9,646.3 734.9,652.7 740.3,658.5 745.5,663.1 751.0,667.1 757.7,671.0 764.9,674.2 772.4,676.8 779.3,678.6 787.3,680.2 795.6,681.3 805.1,682.2 822.1,683.0 860.4,683.5 869.0,683.9 877.2,684.6" fill="none" stroke="#111" stroke-width="3.2" stroke-linejoin="round"/>
<rect x="139.3" y="36.3" width="754.4" height="650.5" fill="none" stroke="#151515" stroke-width="4"/>
<path d="M141,686.8h10 M141,624.8h5 M141,562.8h10 M141,500.7h5 M141,438.7h10 M141,376.7h5 M141,314.7h10 M141,252.7h5 M141,190.6h10 M141,128.6h5 M141,66.6h10 M182,685v-10 M289.9,685v-5 M397.7,685v-10 M505.6,685v-5 M613.4,685v-10 M721.2,685v-5 M829.1,685v-10" stroke="#151515" stroke-width="3.5"/>
<text transform="matrix(1.042,0,0,1.126,82.40,698.50)" class="ta">0.0</text>
<text transform="matrix(1.042,0,0,1.126,82.40,574.46)" class="ta">0.2</text>
<text transform="matrix(1.042,0,0,1.126,81.40,450.42)" class="ta">0.4</text>
<text transform="matrix(1.042,0,0,1.126,81.40,326.38)" class="ta">0.6</text>
<text transform="matrix(1.042,0,0,1.126,82.40,202.34)" class="ta">0.8</text>
<text transform="matrix(1.042,0,0,1.126,82.40,78.30)" class="ta">1.0</text>
<text transform="matrix(1.031,0,0,1.069,158.90,725.20)" class="ta">400</text>
<text transform="matrix(1.031,0,0,1.069,374.10,725.20)" class="ta">500</text>
<text transform="matrix(1.031,0,0,1.069,589.80,725.20)" class="ta">600</text>
<text transform="matrix(1.031,0,0,1.069,805.00,725.20)" class="ta">700</text>
<text transform="matrix(1.019,0,0,1.076,368.00,774.75)" class="tt">Wavelength (nm)</text>
<text transform="matrix(0,-1.077,0.9909,0,53.85,481.75)" class="tt">Intensity (a.u.)</text>
<text transform="matrix(1.119,0,0,1.04,163.60,72.85)" class="tl">(<tspan font-weight="bold" font-size="37" dy="3">a</tspan><tspan dy="-3">)</tspan></text>
<g>
<path d="M600,111 L683,63 L815,85 L781,117 L700,127z" fill="#b5c2b2" opacity="0.85"/>
<path d="M790,131 L809,141 L803,154 L784,144z M770,154 L793,165 L787,176 L764,165z M745,168 L775,184 L768,198 L738,182z" fill="#a4a4a4"/>
<path d="M627,143 L700,128 L790,150 L748,178 L736,192 L640,160z" fill="#c9c9c9"/>
<path d="M627,143 L640,160 L736,192 L738,181 L645,150z" fill="#a9a9a9"/>
<path d="M718,168 L748,176 L738,184z" fill="#ececec"/>
<ellipse cx="712.4" cy="137.5" rx="75.5" ry="28" fill="#e41c1c"/>
<ellipse cx="712.4" cy="136" rx="70" ry="23.5" fill="#d8968a"/>
<path d="M650,100 L650,135.5 A62.5,12 0 0 0 775,135.5 L775,100z" fill="#7aec6c"/>
<ellipse cx="712.5" cy="99.5" rx="62.5" ry="22" fill="#64de54"/>
<ellipse cx="713.3" cy="111" rx="51" ry="11" fill="#8c9a58"/>
<path d="M756,90 v22" stroke="#b8f8b0" stroke-width="3"/>
</g>
<rect x="927" y="34" width="685" height="654" fill="#000"/>
<use href="#cie"/>
<text transform="matrix(1.035,0,0,0.9279,1042.80,616.45)" class="ax">0</text>
<text transform="matrix(1.035,0,0,0.9279,1097.66,616.45)" class="ax">0.1</text>
<text transform="matrix(1.035,0,0,0.9279,1164.52,616.45)" class="ax">0.2</text>
<text transform="matrix(1.035,0,0,0.9279,1230.88,616.45)" class="ax">0.3</text>
<text transform="matrix(1.035,0,0,0.9279,1296.74,616.45)" class="ax">0.4</text>
<text transform="matrix(1.035,0,0,0.9279,1363.10,616.45)" class="ax">0.5</text>
<text transform="matrix(1.035,0,0,0.9279,1429.96,616.45)" class="ax">0.6</text>
<text transform="matrix(1.035,0,0,0.9279,1496.32,616.45)" class="ax">0.7</text>
<text transform="matrix(1.035,0,0,0.9279,1562.18,616.45)" class="ax">0.8</text>
<text transform="matrix(1.036,0,0,1.029,1007.40,581.70)" class="ax">0</text>
<text transform="matrix(1.036,0,0,1.029,984.40,524.88)" class="ax">0.1</text>
<text transform="matrix(1.036,0,0,1.029,985.40,468.06)" class="ax">0.2</text>
<text transform="matrix(1.036,0,0,1.029,985.40,411.24)" class="ax">0.3</text>
<text transform="matrix(1.036,0,0,1.029,984.40,354.42)" class="ax">0.4</text>
<text transform="matrix(1.036,0,0,1.029,984.40,297.60)" class="ax">0.5</text>
<text transform="matrix(1.036,0,0,1.029,985.40,240.78)" class="ax">0.6</text>
<text transform="matrix(1.036,0,0,1.029,985.40,183.96)" class="ax">0.7</text>
<text transform="matrix(1.036,0,0,1.029,984.40,127.14)" class="ax">0.8</text>
<text transform="matrix(1.036,0,0,1.029,985.40,70.32)" class="ax">0.9</text>
<text transform="matrix(1.054,0,0,1.031,1267.15,673.55)" class="at">CIE X</text>
<text transform="matrix(0,-0.99,1.134,0,961.10,361.65)" class="at">CIE Y</text>
<text transform="matrix(1.136,0,0,1.083,934.00,68.65)" class="bl">(<tspan font-weight="bold">b</tspan>)</text>
<clipPath id="ic0"><rect x="1622.5" y="38.3" width="230.6" height="206.8"/></clipPath>
<rect x="1621" y="36.8" width="233.6" height="209.8" fill="#fff"/>
<g clip-path="url(#ic0)"><use href="#cie" transform="matrix(1.045,0,0,1.045,524,-22.2)"/></g>
<rect x="1621" y="36.8" width="233.6" height="209.8" fill="none" stroke="#4a4a4a" stroke-width="3.5"/>
<clipPath id="ic1"><rect x="1624.5" y="263.9" width="228.6" height="205.7"/></clipPath>
<rect x="1623" y="262.4" width="231.6" height="208.7" fill="#fff"/>
<g clip-path="url(#ic1)"><use href="#cie" transform="matrix(1.055,0,0,1.06,185.4,-50.2)"/></g>
<rect x="1623" y="262.4" width="231.6" height="208.7" fill="none" stroke="#4a4a4a" stroke-width="3.5"/>
<clipPath id="ic2"><rect x="1622.4" y="490.1" width="231.6" height="196"/></clipPath>
<rect x="1620.9" y="488.6" width="234.6" height="199" fill="#fff"/>
<g clip-path="url(#ic2)"><use href="#cie" transform="matrix(1.055,0,0,1.05,512.4,86.2)"/></g>
<rect x="1620.9" y="488.6" width="234.6" height="199" fill="none" stroke="#4a4a4a" stroke-width="3.5"/>
</g></svg></body></html>
